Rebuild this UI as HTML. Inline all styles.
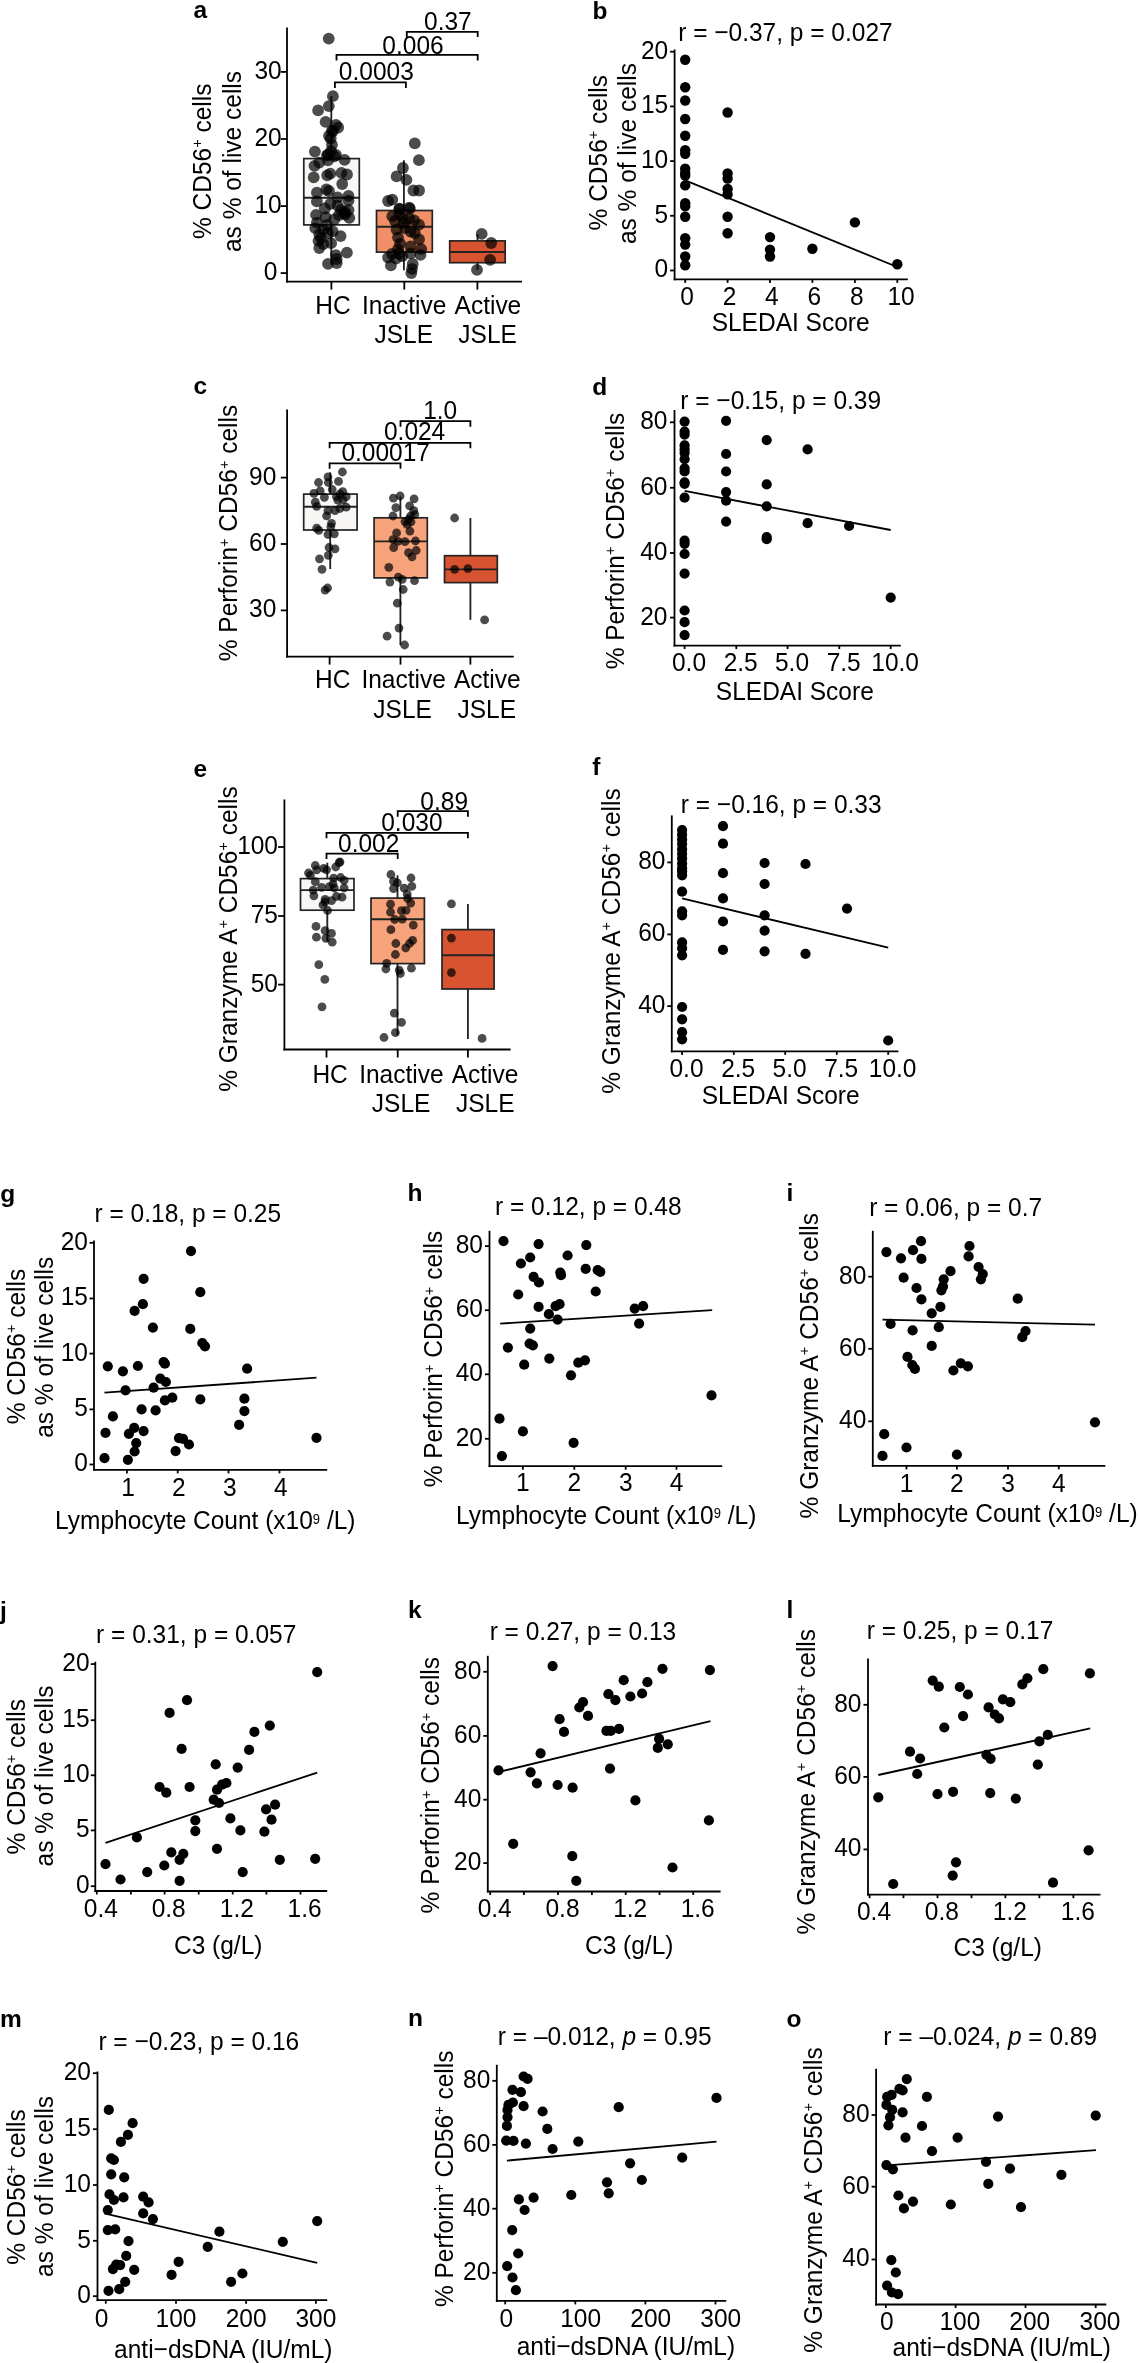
<!DOCTYPE html>
<html><head><meta charset="utf-8"><style>
html,body{margin:0;padding:0;background:#fff;}
svg{display:block;will-change:transform;font-family:"Liberation Sans",sans-serif;font-size:24.5px;fill:#000;}
.d{fill:#000;fill-opacity:0.7;}
.s{fill:#000;}
</style></head><body>
<svg width="1138" height="2363" viewBox="0 0 1138 2363">
<rect width="1138" height="2363" fill="#fff"/>
<text x="193.5" y="18.3" font-weight="bold">a</text>
<line x1="331.3" y1="96.2" x2="331.3" y2="158.6" stroke="#232323" stroke-width="1.85"/>
<line x1="331.3" y1="224.9" x2="331.3" y2="264.6" stroke="#232323" stroke-width="1.85"/>
<rect x="303.8" y="158.6" width="55.5" height="66.3" fill="#f8f7f5" stroke="#232323" stroke-width="1.7"/>
<line x1="303.8" y1="197.7" x2="359.3" y2="197.7" stroke="#232323" stroke-width="1.85"/>
<line x1="403.9" y1="160.2" x2="403.9" y2="210.5" stroke="#232323" stroke-width="1.85"/>
<line x1="403.9" y1="252.1" x2="403.9" y2="270.3" stroke="#232323" stroke-width="1.85"/>
<rect x="376.5" y="210.5" width="55.8" height="41.6" fill="#f18f66" stroke="#232323" stroke-width="1.7"/>
<line x1="376.5" y1="226.7" x2="432.3" y2="226.7" stroke="#232323" stroke-width="1.85"/>
<line x1="477.5" y1="234.3" x2="477.5" y2="240.9" stroke="#232323" stroke-width="1.85"/>
<line x1="477.5" y1="262.7" x2="477.5" y2="269.8" stroke="#232323" stroke-width="1.85"/>
<rect x="449.7" y="240.9" width="55.5" height="21.8" fill="#d85431" stroke="#232323" stroke-width="1.7"/>
<line x1="449.7" y1="252" x2="505.2" y2="252" stroke="#232323" stroke-width="1.85"/>
<circle class="d" cx="328.7" cy="38.6" r="5.9"/>
<circle class="d" cx="332.9" cy="96.2" r="5.9"/>
<circle class="d" cx="328.8" cy="106.1" r="5.9"/>
<circle class="d" cx="318.1" cy="110.4" r="5.9"/>
<circle class="d" cx="325.6" cy="121.9" r="5.9"/>
<circle class="d" cx="338.2" cy="127.5" r="5.9"/>
<circle class="d" cx="331.9" cy="130.6" r="5.9"/>
<circle class="d" cx="336" cy="125" r="5.9"/>
<circle class="d" cx="333" cy="131" r="5.9"/>
<circle class="d" cx="329" cy="136" r="5.9"/>
<circle class="d" cx="330.7" cy="138.5" r="5.9"/>
<circle class="d" cx="332" cy="144.9" r="5.9"/>
<circle class="d" cx="314.9" cy="151.6" r="5.9"/>
<circle class="d" cx="331" cy="151.2" r="5.9"/>
<circle class="d" cx="327" cy="155.5" r="5.9"/>
<circle class="d" cx="336" cy="155" r="5.9"/>
<circle class="d" cx="344.6" cy="159.9" r="5.9"/>
<circle class="d" cx="334.3" cy="156.3" r="5.9"/>
<circle class="d" cx="328" cy="154.7" r="5.9"/>
<circle class="d" cx="319.3" cy="162.7" r="5.9"/>
<circle class="d" cx="314.5" cy="165.8" r="5.9"/>
<circle class="d" cx="328" cy="160.3" r="5.9"/>
<circle class="d" cx="313.7" cy="177.3" r="5.9"/>
<circle class="d" cx="327.2" cy="175.3" r="5.9"/>
<circle class="d" cx="330.3" cy="173.7" r="5.9"/>
<circle class="d" cx="341.4" cy="172.9" r="5.9"/>
<circle class="d" cx="347" cy="174.5" r="5.9"/>
<circle class="d" cx="342.2" cy="184" r="5.9"/>
<circle class="d" cx="316.9" cy="192.7" r="5.9"/>
<circle class="d" cx="326.4" cy="189.5" r="5.9"/>
<circle class="d" cx="329" cy="191" r="5.9"/>
<circle class="d" cx="337.5" cy="197.5" r="5.9"/>
<circle class="d" cx="348.5" cy="195.9" r="5.9"/>
<circle class="d" cx="348.5" cy="200.6" r="5.9"/>
<circle class="d" cx="316.9" cy="201.4" r="5.9"/>
<circle class="d" cx="330.3" cy="203.8" r="5.9"/>
<circle class="d" cx="337.5" cy="205.4" r="5.9"/>
<circle class="d" cx="324.8" cy="208.5" r="5.9"/>
<circle class="d" cx="348.5" cy="210.1" r="5.9"/>
<circle class="d" cx="343.8" cy="213.3" r="5.9"/>
<circle class="d" cx="316.1" cy="214.9" r="5.9"/>
<circle class="d" cx="325.6" cy="217.2" r="5.9"/>
<circle class="d" cx="345.4" cy="214.7" r="5.9"/>
<circle class="d" cx="349.3" cy="217.9" r="5.9"/>
<circle class="d" cx="334.3" cy="219.5" r="5.9"/>
<circle class="d" cx="316.9" cy="222.7" r="5.9"/>
<circle class="d" cx="315.3" cy="228.2" r="5.9"/>
<circle class="d" cx="323.2" cy="229.8" r="5.9"/>
<circle class="d" cx="332.7" cy="231.4" r="5.9"/>
<circle class="d" cx="340.6" cy="236.1" r="5.9"/>
<circle class="d" cx="319.3" cy="234.5" r="5.9"/>
<circle class="d" cx="318.5" cy="240.8" r="5.9"/>
<circle class="d" cx="323.2" cy="244" r="5.9"/>
<circle class="d" cx="331.1" cy="243.2" r="5.9"/>
<circle class="d" cx="319.3" cy="248" r="5.9"/>
<circle class="d" cx="346.9" cy="252.7" r="5.9"/>
<circle class="d" cx="335.9" cy="255.1" r="5.9"/>
<circle class="d" cx="336.7" cy="259" r="5.9"/>
<circle class="d" cx="328" cy="263.8" r="5.9"/>
<circle class="d" cx="336.7" cy="263" r="5.9"/>
<circle class="d" cx="345" cy="212" r="5.9"/>
<circle class="d" cx="341" cy="210" r="5.9"/>
<circle class="d" cx="339" cy="215" r="5.9"/>
<circle class="d" cx="327" cy="225" r="5.9"/>
<circle class="d" cx="328" cy="233" r="5.9"/>
<circle class="d" cx="321" cy="238" r="5.9"/>
<circle class="d" cx="414.8" cy="143.4" r="5.9"/>
<circle class="d" cx="418.9" cy="160.2" r="5.9"/>
<circle class="d" cx="402.9" cy="168" r="5.9"/>
<circle class="d" cx="396.6" cy="176.4" r="5.9"/>
<circle class="d" cx="406.4" cy="179.9" r="5.9"/>
<circle class="d" cx="413.4" cy="190.5" r="5.9"/>
<circle class="d" cx="419.1" cy="190.5" r="5.9"/>
<circle class="d" cx="388.1" cy="201" r="5.9"/>
<circle class="d" cx="392.3" cy="199.6" r="5.9"/>
<circle class="d" cx="409.9" cy="208.7" r="5.9"/>
<circle class="d" cx="399.4" cy="208.7" r="5.9"/>
<circle class="d" cx="409.2" cy="207.7" r="5.9"/>
<circle class="d" cx="399.4" cy="209.1" r="5.9"/>
<circle class="d" cx="392.3" cy="216.2" r="5.9"/>
<circle class="d" cx="399.4" cy="214.1" r="5.9"/>
<circle class="d" cx="409.2" cy="218.3" r="5.9"/>
<circle class="d" cx="414.1" cy="220.4" r="5.9"/>
<circle class="d" cx="419" cy="224.6" r="5.9"/>
<circle class="d" cx="403.6" cy="223.2" r="5.9"/>
<circle class="d" cx="396.6" cy="229.5" r="5.9"/>
<circle class="d" cx="410.6" cy="231.6" r="5.9"/>
<circle class="d" cx="398" cy="237.3" r="5.9"/>
<circle class="d" cx="419" cy="239.4" r="5.9"/>
<circle class="d" cx="414.8" cy="233" r="5.9"/>
<circle class="d" cx="400.1" cy="243.6" r="5.9"/>
<circle class="d" cx="410.6" cy="246.4" r="5.9"/>
<circle class="d" cx="421.2" cy="249.2" r="5.9"/>
<circle class="d" cx="398" cy="249.2" r="5.9"/>
<circle class="d" cx="410.6" cy="253.4" r="5.9"/>
<circle class="d" cx="420.5" cy="254.8" r="5.9"/>
<circle class="d" cx="388.1" cy="257.6" r="5.9"/>
<circle class="d" cx="402.2" cy="256.2" r="5.9"/>
<circle class="d" cx="390.9" cy="265.4" r="5.9"/>
<circle class="d" cx="412.7" cy="264" r="5.9"/>
<circle class="d" cx="412" cy="268.9" r="5.9"/>
<circle class="d" cx="411.3" cy="273.1" r="5.9"/>
<circle class="d" cx="395" cy="221" r="5.9"/>
<circle class="d" cx="405" cy="228" r="5.9"/>
<circle class="d" cx="392" cy="254" r="5.9"/>
<circle class="d" cx="403" cy="218" r="5.9"/>
<circle class="d" cx="396" cy="258.5" r="5.9"/>
<circle class="d" cx="399" cy="253.5" r="5.9"/>
<circle class="d" cx="481.7" cy="233.9" r="5.9"/>
<circle class="d" cx="491.2" cy="243" r="5.9"/>
<circle class="d" cx="490.1" cy="259.9" r="5.9"/>
<circle class="d" cx="477" cy="269.8" r="5.9"/>
<line x1="287" y1="27.5" x2="287" y2="282.5" stroke="#000" stroke-width="1.8"/>
<line x1="286.1" y1="281.6" x2="522" y2="281.6" stroke="#000" stroke-width="1.8"/>
<line x1="280.7" y1="273.1" x2="287" y2="273.1" stroke="#000" stroke-width="1.8"/>
<line x1="280.7" y1="206.1" x2="287" y2="206.1" stroke="#000" stroke-width="1.8"/>
<line x1="280.7" y1="139" x2="287" y2="139" stroke="#000" stroke-width="1.8"/>
<line x1="280.7" y1="71.9" x2="287" y2="71.9" stroke="#000" stroke-width="1.8"/>
<line x1="331.4" y1="281.6" x2="331.4" y2="289.6" stroke="#000" stroke-width="1.8"/>
<line x1="404.3" y1="281.6" x2="404.3" y2="289.6" stroke="#000" stroke-width="1.8"/>
<line x1="477.4" y1="281.6" x2="477.4" y2="289.6" stroke="#000" stroke-width="1.8"/>
<text transform="translate(281.7,78.8) scale(1,1.06)" text-anchor="end">30</text>
<text transform="translate(281.7,145.9) scale(1,1.06)" text-anchor="end">20</text>
<text transform="translate(281.7,212.9) scale(1,1.06)" text-anchor="end">10</text>
<text transform="translate(277.3,280) scale(1,1.06)" text-anchor="end">0</text>
<text transform="translate(333,314.3) scale(1,1.06)" text-anchor="middle">HC</text>
<text transform="translate(404.2,314.3) scale(1,1.06)" text-anchor="middle">Inactive</text>
<text transform="translate(487.9,314.3) scale(1,1.06)" text-anchor="middle">Active</text>
<text transform="translate(403.7,342.9) scale(1,1.06)" text-anchor="middle">JSLE</text>
<text transform="translate(487.6,342.9) scale(1,1.06)" text-anchor="middle">JSLE</text>
<text transform="translate(210.8,161.3) rotate(-90) scale(1,1.06)" text-anchor="middle">% CD56<tspan font-size="14.5" dy="-8.3">+</tspan><tspan dy="8.3"> </tspan>cells</text>
<text transform="translate(240.9,161.5) rotate(-90) scale(1,1.06)" text-anchor="middle">as % of live cells</text>
<polyline points="334.9,87.9 334.9,82.4 405.9,82.4 405.9,87.9" fill="none" stroke="#000" stroke-width="1.8"/>
<polyline points="336.5,60.4 336.5,54.9 477.7,54.9 477.7,60.4" fill="none" stroke="#000" stroke-width="1.8"/>
<polyline points="406.8,36.9 406.8,31.9 477.7,31.9 477.7,36.9" fill="none" stroke="#000" stroke-width="1.8"/>
<text transform="translate(376.3,79.6) scale(1,1.06)" text-anchor="middle">0.0003</text>
<text transform="translate(413,54.3) scale(1,1.06)" text-anchor="middle">0.006</text>
<text transform="translate(447.9,29.7) scale(1,1.06)" text-anchor="middle">0.37</text>
<text x="592.5" y="18.6" font-weight="bold">b</text>
<line x1="674.6" y1="49.5" x2="674.6" y2="280.3" stroke="#000" stroke-width="1.8"/>
<line x1="673.7" y1="279.4" x2="907.8" y2="279.4" stroke="#000" stroke-width="1.8"/>
<line x1="670.1" y1="270.5" x2="674.6" y2="270.5" stroke="#000" stroke-width="1.8"/>
<line x1="670.1" y1="215.8" x2="674.6" y2="215.8" stroke="#000" stroke-width="1.8"/>
<line x1="670.1" y1="161.1" x2="674.6" y2="161.1" stroke="#000" stroke-width="1.8"/>
<line x1="670.1" y1="106.4" x2="674.6" y2="106.4" stroke="#000" stroke-width="1.8"/>
<line x1="670.1" y1="51.7" x2="674.6" y2="51.7" stroke="#000" stroke-width="1.8"/>
<line x1="685.2" y1="279.4" x2="685.2" y2="282.9" stroke="#000" stroke-width="1.8"/>
<line x1="727.6" y1="279.4" x2="727.6" y2="282.9" stroke="#000" stroke-width="1.8"/>
<line x1="770" y1="279.4" x2="770" y2="282.9" stroke="#000" stroke-width="1.8"/>
<line x1="812.4" y1="279.4" x2="812.4" y2="282.9" stroke="#000" stroke-width="1.8"/>
<line x1="854.9" y1="279.4" x2="854.9" y2="282.9" stroke="#000" stroke-width="1.8"/>
<line x1="897.3" y1="279.4" x2="897.3" y2="282.9" stroke="#000" stroke-width="1.8"/>
<text transform="translate(668.2,277.4) scale(1,1.06)" text-anchor="end">0</text>
<text transform="translate(668.2,222.7) scale(1,1.06)" text-anchor="end">5</text>
<text transform="translate(668.2,168) scale(1,1.06)" text-anchor="end">10</text>
<text transform="translate(668.2,113.3) scale(1,1.06)" text-anchor="end">15</text>
<text transform="translate(668.2,58.6) scale(1,1.06)" text-anchor="end">20</text>
<text transform="translate(687.1,304.8) scale(1,1.06)" text-anchor="middle">0</text>
<text transform="translate(729.5,304.8) scale(1,1.06)" text-anchor="middle">2</text>
<text transform="translate(771.9,304.8) scale(1,1.06)" text-anchor="middle">4</text>
<text transform="translate(814.3,304.8) scale(1,1.06)" text-anchor="middle">6</text>
<text transform="translate(856.8,304.8) scale(1,1.06)" text-anchor="middle">8</text>
<text transform="translate(901.1,304.8) scale(1,1.06)" text-anchor="middle">10</text>
<text transform="translate(790.6,331.4) scale(1,1.06)" text-anchor="middle">SLEDAI Score</text>
<text transform="translate(785.4,40.8) scale(1,1.06)" text-anchor="middle">r = −0.37, p = 0.027</text>
<text transform="translate(606.8,152.7) rotate(-90) scale(1,1.06)" text-anchor="middle">% CD56<tspan font-size="14.5" dy="-8.3">+</tspan><tspan dy="8.3"> </tspan>cells</text>
<text transform="translate(636.1,153.6) rotate(-90) scale(1,1.06)" text-anchor="middle">as % of live cells</text>
<line x1="685.2" y1="180.3" x2="897.3" y2="267" stroke="#000" stroke-width="1.8"/>
<circle class="s" cx="685.2" cy="59.8" r="5.2"/>
<circle class="s" cx="685.2" cy="87.3" r="5.2"/>
<circle class="s" cx="685.2" cy="100.5" r="5.2"/>
<circle class="s" cx="685.2" cy="119" r="5.2"/>
<circle class="s" cx="685.2" cy="135.7" r="5.2"/>
<circle class="s" cx="685.2" cy="150.3" r="5.2"/>
<circle class="s" cx="685.2" cy="153.8" r="5.2"/>
<circle class="s" cx="685.2" cy="168.7" r="5.2"/>
<circle class="s" cx="685.2" cy="173" r="5.2"/>
<circle class="s" cx="685.2" cy="175.6" r="5.2"/>
<circle class="s" cx="685.2" cy="185.4" r="5.2"/>
<circle class="s" cx="685.2" cy="203.3" r="5.2"/>
<circle class="s" cx="685.2" cy="206.3" r="5.2"/>
<circle class="s" cx="685.2" cy="216.8" r="5.2"/>
<circle class="s" cx="685.2" cy="238.3" r="5.2"/>
<circle class="s" cx="685.2" cy="244.6" r="5.2"/>
<circle class="s" cx="685.2" cy="256.5" r="5.2"/>
<circle class="s" cx="685.2" cy="265.2" r="5.2"/>
<circle class="s" cx="727.6" cy="112.5" r="5.2"/>
<circle class="s" cx="727.6" cy="173.4" r="5.2"/>
<circle class="s" cx="727.6" cy="178.5" r="5.2"/>
<circle class="s" cx="727.6" cy="189" r="5.2"/>
<circle class="s" cx="727.6" cy="194.4" r="5.2"/>
<circle class="s" cx="727.6" cy="216.8" r="5.2"/>
<circle class="s" cx="727.6" cy="233.2" r="5.2"/>
<circle class="s" cx="770" cy="237.1" r="5.2"/>
<circle class="s" cx="770" cy="249.6" r="5.2"/>
<circle class="s" cx="770" cy="256.5" r="5.2"/>
<circle class="s" cx="812.4" cy="248.7" r="5.2"/>
<circle class="s" cx="854.9" cy="222.4" r="5.2"/>
<circle class="s" cx="897.3" cy="264.3" r="5.2"/>
<text x="193.5" y="393.8" font-weight="bold">c</text>
<line x1="330.2" y1="472.3" x2="330.2" y2="494.1" stroke="#232323" stroke-width="1.85"/>
<line x1="330.2" y1="530" x2="330.2" y2="569" stroke="#232323" stroke-width="1.85"/>
<rect x="303.7" y="494.1" width="53.4" height="35.9" fill="#f8f7f5" stroke="#232323" stroke-width="1.7"/>
<line x1="303.7" y1="506.7" x2="357.1" y2="506.7" stroke="#232323" stroke-width="1.85"/>
<line x1="400.4" y1="496.7" x2="400.4" y2="517.8" stroke="#232323" stroke-width="1.85"/>
<line x1="400.4" y1="577.9" x2="400.4" y2="645" stroke="#232323" stroke-width="1.85"/>
<rect x="374.1" y="517.8" width="53.2" height="60.1" fill="#f7a47d" stroke="#232323" stroke-width="1.7"/>
<line x1="374.1" y1="541.3" x2="427.3" y2="541.3" stroke="#232323" stroke-width="1.85"/>
<line x1="470.4" y1="518" x2="470.4" y2="555.7" stroke="#232323" stroke-width="1.85"/>
<line x1="470.4" y1="582.6" x2="470.4" y2="619.9" stroke="#232323" stroke-width="1.85"/>
<rect x="444.5" y="555.7" width="52.8" height="26.9" fill="#d85431" stroke="#232323" stroke-width="1.7"/>
<line x1="444.5" y1="569.3" x2="497.3" y2="569.3" stroke="#232323" stroke-width="1.85"/>
<circle class="d" cx="342.4" cy="472" r="4.4"/>
<circle class="d" cx="328" cy="476.9" r="4.4"/>
<circle class="d" cx="318.5" cy="482.5" r="4.4"/>
<circle class="d" cx="338.5" cy="481.4" r="4.4"/>
<circle class="d" cx="328.3" cy="482.5" r="4.4"/>
<circle class="d" cx="332.2" cy="489.5" r="4.4"/>
<circle class="d" cx="320.2" cy="490.9" r="4.4"/>
<circle class="d" cx="313.9" cy="493.4" r="4.4"/>
<circle class="d" cx="342.7" cy="491.6" r="4.4"/>
<circle class="d" cx="324.4" cy="497.3" r="4.4"/>
<circle class="d" cx="336.4" cy="496.6" r="4.4"/>
<circle class="d" cx="346.2" cy="496.6" r="4.4"/>
<circle class="d" cx="337.8" cy="500.1" r="4.4"/>
<circle class="d" cx="315.3" cy="502.2" r="4.4"/>
<circle class="d" cx="316.7" cy="506.4" r="4.4"/>
<circle class="d" cx="346.2" cy="507.1" r="4.4"/>
<circle class="d" cx="339.9" cy="508.5" r="4.4"/>
<circle class="d" cx="328" cy="510.6" r="4.4"/>
<circle class="d" cx="335" cy="510.6" r="4.4"/>
<circle class="d" cx="326.6" cy="515.9" r="4.4"/>
<circle class="d" cx="331.5" cy="523.3" r="4.4"/>
<circle class="d" cx="330.8" cy="526.8" r="4.4"/>
<circle class="d" cx="316.7" cy="528.2" r="4.4"/>
<circle class="d" cx="318.8" cy="530.3" r="4.4"/>
<circle class="d" cx="328" cy="534.5" r="4.4"/>
<circle class="d" cx="334.3" cy="533.8" r="4.4"/>
<circle class="d" cx="329" cy="547.5" r="4.4"/>
<circle class="d" cx="335" cy="548.9" r="4.4"/>
<circle class="d" cx="328.3" cy="555.3" r="4.4"/>
<circle class="d" cx="319.5" cy="558.8" r="4.4"/>
<circle class="d" cx="322" cy="569.3" r="4.4"/>
<circle class="d" cx="327.6" cy="588" r="4.4"/>
<circle class="d" cx="325.1" cy="590.1" r="4.4"/>
<circle class="d" cx="340" cy="494" r="4.4"/>
<circle class="d" cx="343" cy="500" r="4.4"/>
<circle class="d" cx="393.4" cy="498.1" r="4.4"/>
<circle class="d" cx="400.1" cy="496" r="4.4"/>
<circle class="d" cx="414.1" cy="498.8" r="4.4"/>
<circle class="d" cx="395.9" cy="507.6" r="4.4"/>
<circle class="d" cx="409.6" cy="505.8" r="4.4"/>
<circle class="d" cx="413.8" cy="510.7" r="4.4"/>
<circle class="d" cx="414.8" cy="514.6" r="4.4"/>
<circle class="d" cx="393" cy="516" r="4.4"/>
<circle class="d" cx="410.6" cy="516" r="4.4"/>
<circle class="d" cx="405" cy="521.6" r="4.4"/>
<circle class="d" cx="407.1" cy="524.4" r="4.4"/>
<circle class="d" cx="409.9" cy="531.1" r="4.4"/>
<circle class="d" cx="396.6" cy="532.9" r="4.4"/>
<circle class="d" cx="393" cy="539.6" r="4.4"/>
<circle class="d" cx="398" cy="541.3" r="4.4"/>
<circle class="d" cx="405" cy="541.7" r="4.4"/>
<circle class="d" cx="415.5" cy="541" r="4.4"/>
<circle class="d" cx="393.7" cy="547.6" r="4.4"/>
<circle class="d" cx="408.5" cy="552.6" r="4.4"/>
<circle class="d" cx="416.2" cy="550.5" r="4.4"/>
<circle class="d" cx="412" cy="556.8" r="4.4"/>
<circle class="d" cx="388.8" cy="567.3" r="4.4"/>
<circle class="d" cx="398.3" cy="577.2" r="4.4"/>
<circle class="d" cx="402.2" cy="579.3" r="4.4"/>
<circle class="d" cx="389.9" cy="582.1" r="4.4"/>
<circle class="d" cx="414.5" cy="580.7" r="4.4"/>
<circle class="d" cx="403.2" cy="589.5" r="4.4"/>
<circle class="d" cx="397.3" cy="603.2" r="4.4"/>
<circle class="d" cx="399" cy="628.1" r="4.4"/>
<circle class="d" cx="387.1" cy="636.2" r="4.4"/>
<circle class="d" cx="404.6" cy="645" r="4.4"/>
<circle class="d" cx="409" cy="519" r="4.4"/>
<circle class="d" cx="411" cy="522" r="4.4"/>
<circle class="d" cx="454.6" cy="518" r="4.4"/>
<circle class="d" cx="454.6" cy="569.3" r="4.4"/>
<circle class="d" cx="467.9" cy="568.7" r="4.4"/>
<circle class="d" cx="484.6" cy="619.9" r="4.4"/>
<line x1="287.1" y1="409.5" x2="287.1" y2="657.5" stroke="#000" stroke-width="1.8"/>
<line x1="286.2" y1="656.6" x2="513.8" y2="656.6" stroke="#000" stroke-width="1.8"/>
<line x1="280.8" y1="610.4" x2="287.1" y2="610.4" stroke="#000" stroke-width="1.8"/>
<line x1="280.8" y1="544" x2="287.1" y2="544" stroke="#000" stroke-width="1.8"/>
<line x1="280.8" y1="477.6" x2="287.1" y2="477.6" stroke="#000" stroke-width="1.8"/>
<line x1="329.6" y1="656.6" x2="329.6" y2="664.6" stroke="#000" stroke-width="1.8"/>
<line x1="400.5" y1="656.6" x2="400.5" y2="664.6" stroke="#000" stroke-width="1.8"/>
<line x1="470.4" y1="656.6" x2="470.4" y2="664.6" stroke="#000" stroke-width="1.8"/>
<text transform="translate(276.3,617.3) scale(1,1.06)" text-anchor="end">30</text>
<text transform="translate(276.3,550.9) scale(1,1.06)" text-anchor="end">60</text>
<text transform="translate(276.3,484.5) scale(1,1.06)" text-anchor="end">90</text>
<text transform="translate(332.7,688.1) scale(1,1.06)" text-anchor="middle">HC</text>
<text transform="translate(403.6,688.1) scale(1,1.06)" text-anchor="middle">Inactive</text>
<text transform="translate(487.3,688.1) scale(1,1.06)" text-anchor="middle">Active</text>
<text transform="translate(402.6,717.8) scale(1,1.06)" text-anchor="middle">JSLE</text>
<text transform="translate(486.8,717.8) scale(1,1.06)" text-anchor="middle">JSLE</text>
<text transform="translate(237.4,533) rotate(-90) scale(1,1.06)" text-anchor="middle">% Perforin<tspan font-size="14.5" dy="-8.3">+</tspan><tspan dy="8.3"> </tspan>CD56<tspan font-size="14.5" dy="-8.3">+</tspan><tspan dy="8.3"> </tspan>cells</text>
<polyline points="329.6,468.8 329.6,463.3 400.5,463.3 400.5,468.8" fill="none" stroke="#000" stroke-width="1.8"/>
<polyline points="329.6,448.3 329.6,442.8 470.4,442.8 470.4,448.3" fill="none" stroke="#000" stroke-width="1.8"/>
<polyline points="400.5,426.7 400.5,421.2 470.4,421.2 470.4,426.7" fill="none" stroke="#000" stroke-width="1.8"/>
<text transform="translate(385.7,461.1) scale(1,1.06)" text-anchor="middle">0.00017</text>
<text transform="translate(414.6,440.2) scale(1,1.06)" text-anchor="middle">0.024</text>
<text transform="translate(440.2,419.1) scale(1,1.06)" text-anchor="middle">1.0</text>
<text x="592.3" y="394.6" font-weight="bold">d</text>
<line x1="674.5" y1="410" x2="674.5" y2="646.5" stroke="#000" stroke-width="1.8"/>
<line x1="673.6" y1="645.6" x2="900.8" y2="645.6" stroke="#000" stroke-width="1.8"/>
<line x1="670" y1="617.6" x2="674.5" y2="617.6" stroke="#000" stroke-width="1.8"/>
<line x1="670" y1="553" x2="674.5" y2="553" stroke="#000" stroke-width="1.8"/>
<line x1="670" y1="487.8" x2="674.5" y2="487.8" stroke="#000" stroke-width="1.8"/>
<line x1="670" y1="422.3" x2="674.5" y2="422.3" stroke="#000" stroke-width="1.8"/>
<line x1="684.6" y1="645.6" x2="684.6" y2="649.1" stroke="#000" stroke-width="1.8"/>
<line x1="736.3" y1="645.6" x2="736.3" y2="649.1" stroke="#000" stroke-width="1.8"/>
<line x1="787.6" y1="645.6" x2="787.6" y2="649.1" stroke="#000" stroke-width="1.8"/>
<line x1="839.3" y1="645.6" x2="839.3" y2="649.1" stroke="#000" stroke-width="1.8"/>
<line x1="890.7" y1="645.6" x2="890.7" y2="649.1" stroke="#000" stroke-width="1.8"/>
<text transform="translate(667.5,624.5) scale(1,1.06)" text-anchor="end">20</text>
<text transform="translate(667.5,559.9) scale(1,1.06)" text-anchor="end">40</text>
<text transform="translate(667.5,494.7) scale(1,1.06)" text-anchor="end">60</text>
<text transform="translate(667.5,429.2) scale(1,1.06)" text-anchor="end">80</text>
<text transform="translate(689,671.4) scale(1,1.06)" text-anchor="middle">0.0</text>
<text transform="translate(740.7,671.4) scale(1,1.06)" text-anchor="middle">2.5</text>
<text transform="translate(792,671.4) scale(1,1.06)" text-anchor="middle">5.0</text>
<text transform="translate(843.7,671.4) scale(1,1.06)" text-anchor="middle">7.5</text>
<text transform="translate(895.1,671.4) scale(1,1.06)" text-anchor="middle">10.0</text>
<text transform="translate(794.8,699.6) scale(1,1.06)" text-anchor="middle">SLEDAI Score</text>
<text transform="translate(780.7,408.9) scale(1,1.06)" text-anchor="middle">r = −0.15, p = 0.39</text>
<text transform="translate(623.6,541.1) rotate(-90) scale(1,1.06)" text-anchor="middle">% Perforin<tspan font-size="14.5" dy="-8.3">+</tspan><tspan dy="8.3"> </tspan>CD56<tspan font-size="14.5" dy="-8.3">+</tspan><tspan dy="8.3"> </tspan>cells</text>
<line x1="684.6" y1="490.9" x2="890.7" y2="530" stroke="#000" stroke-width="1.8"/>
<circle class="s" cx="684.6" cy="421.7" r="5.1"/>
<circle class="s" cx="684.6" cy="431.5" r="5.1"/>
<circle class="s" cx="684.6" cy="434.6" r="5.1"/>
<circle class="s" cx="684.6" cy="445.4" r="5.1"/>
<circle class="s" cx="684.6" cy="449.4" r="5.1"/>
<circle class="s" cx="684.6" cy="453" r="5.1"/>
<circle class="s" cx="684.6" cy="459.2" r="5.1"/>
<circle class="s" cx="684.6" cy="468.4" r="5.1"/>
<circle class="s" cx="684.6" cy="471.5" r="5.1"/>
<circle class="s" cx="684.6" cy="482.3" r="5.1"/>
<circle class="s" cx="684.6" cy="483.8" r="5.1"/>
<circle class="s" cx="684.6" cy="497.7" r="5.1"/>
<circle class="s" cx="684.6" cy="540.7" r="5.1"/>
<circle class="s" cx="684.6" cy="543.8" r="5.1"/>
<circle class="s" cx="684.6" cy="554" r="5.1"/>
<circle class="s" cx="684.6" cy="573.6" r="5.1"/>
<circle class="s" cx="684.6" cy="610.5" r="5.1"/>
<circle class="s" cx="684.6" cy="622.2" r="5.1"/>
<circle class="s" cx="684.6" cy="635.1" r="5.1"/>
<circle class="s" cx="726.1" cy="420.8" r="5.1"/>
<circle class="s" cx="726.1" cy="454" r="5.1"/>
<circle class="s" cx="726.1" cy="471.5" r="5.1"/>
<circle class="s" cx="726.1" cy="492.1" r="5.1"/>
<circle class="s" cx="726.1" cy="500.7" r="5.1"/>
<circle class="s" cx="726.1" cy="521.6" r="5.1"/>
<circle class="s" cx="766.7" cy="440.1" r="5.1"/>
<circle class="s" cx="766.7" cy="484.4" r="5.1"/>
<circle class="s" cx="766.7" cy="506.3" r="5.1"/>
<circle class="s" cx="766.7" cy="537" r="5.1"/>
<circle class="s" cx="766.7" cy="539.2" r="5.1"/>
<circle class="s" cx="807.6" cy="449.4" r="5.1"/>
<circle class="s" cx="807.6" cy="523.2" r="5.1"/>
<circle class="s" cx="849.1" cy="526" r="5.1"/>
<circle class="s" cx="890.7" cy="597.6" r="5.1"/>
<text x="193.5" y="776.6" font-weight="bold">e</text>
<line x1="327.3" y1="862.7" x2="327.3" y2="878.6" stroke="#232323" stroke-width="1.85"/>
<line x1="327.3" y1="910.2" x2="327.3" y2="941.5" stroke="#232323" stroke-width="1.85"/>
<rect x="300.5" y="878.6" width="53.5" height="31.6" fill="#f8f7f5" stroke="#232323" stroke-width="1.7"/>
<line x1="300.5" y1="890.1" x2="354" y2="890.1" stroke="#232323" stroke-width="1.85"/>
<line x1="397.5" y1="875.3" x2="397.5" y2="898.1" stroke="#232323" stroke-width="1.85"/>
<line x1="397.5" y1="963.6" x2="397.5" y2="1035.2" stroke="#232323" stroke-width="1.85"/>
<rect x="371" y="898.1" width="53.4" height="65.5" fill="#f7a47d" stroke="#232323" stroke-width="1.7"/>
<line x1="371" y1="919.2" x2="424.4" y2="919.2" stroke="#232323" stroke-width="1.85"/>
<line x1="467.9" y1="904" x2="467.9" y2="929.6" stroke="#232323" stroke-width="1.85"/>
<line x1="467.9" y1="989" x2="467.9" y2="1039" stroke="#232323" stroke-width="1.85"/>
<rect x="442" y="929.6" width="52.1" height="59.4" fill="#d85431" stroke="#232323" stroke-width="1.7"/>
<line x1="442" y1="955.2" x2="494.1" y2="955.2" stroke="#232323" stroke-width="1.85"/>
<circle class="d" cx="315.3" cy="865.5" r="4.4"/>
<circle class="d" cx="339.2" cy="862.7" r="4.4"/>
<circle class="d" cx="335.7" cy="867" r="4.4"/>
<circle class="d" cx="323.7" cy="868.4" r="4.4"/>
<circle class="d" cx="326.6" cy="869.8" r="4.4"/>
<circle class="d" cx="316.7" cy="869.8" r="4.4"/>
<circle class="d" cx="310.4" cy="875.4" r="4.4"/>
<circle class="d" cx="333.6" cy="878.2" r="4.4"/>
<circle class="d" cx="340.6" cy="877.5" r="4.4"/>
<circle class="d" cx="344.1" cy="880.3" r="4.4"/>
<circle class="d" cx="315.3" cy="881.7" r="4.4"/>
<circle class="d" cx="321.6" cy="887.3" r="4.4"/>
<circle class="d" cx="329.4" cy="886.6" r="4.4"/>
<circle class="d" cx="334.3" cy="888" r="4.4"/>
<circle class="d" cx="344.1" cy="888" r="4.4"/>
<circle class="d" cx="313.2" cy="890.1" r="4.4"/>
<circle class="d" cx="313.9" cy="895.8" r="4.4"/>
<circle class="d" cx="336.4" cy="896.5" r="4.4"/>
<circle class="d" cx="342" cy="897.2" r="4.4"/>
<circle class="d" cx="325.1" cy="899.3" r="4.4"/>
<circle class="d" cx="331.5" cy="900.7" r="4.4"/>
<circle class="d" cx="323" cy="904.9" r="4.4"/>
<circle class="d" cx="327.6" cy="910.5" r="4.4"/>
<circle class="d" cx="316" cy="926.4" r="4.4"/>
<circle class="d" cx="325.1" cy="930.6" r="4.4"/>
<circle class="d" cx="331.5" cy="933.4" r="4.4"/>
<circle class="d" cx="316.4" cy="937.2" r="4.4"/>
<circle class="d" cx="325.9" cy="938.3" r="4.4"/>
<circle class="d" cx="332.2" cy="942.2" r="4.4"/>
<circle class="d" cx="318.8" cy="964.7" r="4.4"/>
<circle class="d" cx="324.8" cy="979.4" r="4.4"/>
<circle class="d" cx="322" cy="1006.8" r="4.4"/>
<circle class="d" cx="340" cy="862" r="4.4"/>
<circle class="d" cx="308.5" cy="873" r="4.4"/>
<circle class="d" cx="333" cy="884" r="4.4"/>
<circle class="d" cx="325" cy="902" r="4.4"/>
<circle class="d" cx="390.9" cy="874.5" r="4.4"/>
<circle class="d" cx="411" cy="878" r="4.4"/>
<circle class="d" cx="393.5" cy="881.4" r="4.4"/>
<circle class="d" cx="397.3" cy="882.9" r="4.4"/>
<circle class="d" cx="411.8" cy="886.3" r="4.4"/>
<circle class="d" cx="393.5" cy="888.6" r="4.4"/>
<circle class="d" cx="404.2" cy="888.2" r="4.4"/>
<circle class="d" cx="407.2" cy="893.9" r="4.4"/>
<circle class="d" cx="407.6" cy="898.5" r="4.4"/>
<circle class="d" cx="410.7" cy="903.1" r="4.4"/>
<circle class="d" cx="390.5" cy="904.2" r="4.4"/>
<circle class="d" cx="390.5" cy="912.2" r="4.4"/>
<circle class="d" cx="401.5" cy="910.7" r="4.4"/>
<circle class="d" cx="406.1" cy="910.3" r="4.4"/>
<circle class="d" cx="394.7" cy="919.5" r="4.4"/>
<circle class="d" cx="402.3" cy="919.1" r="4.4"/>
<circle class="d" cx="413.3" cy="925.2" r="4.4"/>
<circle class="d" cx="390.9" cy="929.7" r="4.4"/>
<circle class="d" cx="412.6" cy="940.4" r="4.4"/>
<circle class="d" cx="409.5" cy="943.5" r="4.4"/>
<circle class="d" cx="395.8" cy="943.5" r="4.4"/>
<circle class="d" cx="405.7" cy="948" r="4.4"/>
<circle class="d" cx="395.4" cy="954.5" r="4.4"/>
<circle class="d" cx="386.7" cy="963.3" r="4.4"/>
<circle class="d" cx="385.9" cy="969" r="4.4"/>
<circle class="d" cx="399.2" cy="970.1" r="4.4"/>
<circle class="d" cx="400.4" cy="973.5" r="4.4"/>
<circle class="d" cx="411.4" cy="968.2" r="4.4"/>
<circle class="d" cx="394.3" cy="1013.2" r="4.4"/>
<circle class="d" cx="401.5" cy="1022.3" r="4.4"/>
<circle class="d" cx="395.4" cy="1032.6" r="4.4"/>
<circle class="d" cx="384" cy="1037.5" r="4.4"/>
<circle class="d" cx="451.4" cy="903.9" r="4.4"/>
<circle class="d" cx="451.4" cy="938.1" r="4.4"/>
<circle class="d" cx="451.4" cy="972.6" r="4.4"/>
<circle class="d" cx="482.1" cy="1038.4" r="4.4"/>
<line x1="284.4" y1="799.5" x2="284.4" y2="1050.4" stroke="#000" stroke-width="1.8"/>
<line x1="283.5" y1="1049.5" x2="510.6" y2="1049.5" stroke="#000" stroke-width="1.8"/>
<line x1="278.1" y1="984.6" x2="284.4" y2="984.6" stroke="#000" stroke-width="1.8"/>
<line x1="278.1" y1="916" x2="284.4" y2="916" stroke="#000" stroke-width="1.8"/>
<line x1="278.1" y1="847" x2="284.4" y2="847" stroke="#000" stroke-width="1.8"/>
<line x1="326.5" y1="1049.5" x2="326.5" y2="1057.5" stroke="#000" stroke-width="1.8"/>
<line x1="397.7" y1="1049.5" x2="397.7" y2="1057.5" stroke="#000" stroke-width="1.8"/>
<line x1="467.9" y1="1049.5" x2="467.9" y2="1057.5" stroke="#000" stroke-width="1.8"/>
<text transform="translate(278,991.5) scale(1,1.06)" text-anchor="end">50</text>
<text transform="translate(278,922.9) scale(1,1.06)" text-anchor="end">75</text>
<text transform="translate(278,853.9) scale(1,1.06)" text-anchor="end">100</text>
<text transform="translate(330.1,1083.2) scale(1,1.06)" text-anchor="middle">HC</text>
<text transform="translate(401.4,1083.2) scale(1,1.06)" text-anchor="middle">Inactive</text>
<text transform="translate(485,1083.2) scale(1,1.06)" text-anchor="middle">Active</text>
<text transform="translate(401.1,1111.7) scale(1,1.06)" text-anchor="middle">JSLE</text>
<text transform="translate(485.3,1111.7) scale(1,1.06)" text-anchor="middle">JSLE</text>
<text transform="translate(237.1,939.1) rotate(-90) scale(1,1.06)" text-anchor="middle">% Granzyme A<tspan font-size="14.5" dy="-8.3">+</tspan><tspan dy="8.3"> </tspan>CD56<tspan font-size="14.5" dy="-8.3">+</tspan><tspan dy="8.3"> </tspan>cells</text>
<polyline points="326.5,859.1 326.5,853.6 397.7,853.6 397.7,859.1" fill="none" stroke="#000" stroke-width="1.8"/>
<polyline points="326.5,838.3 326.5,832.8 467.9,832.8 467.9,838.3" fill="none" stroke="#000" stroke-width="1.8"/>
<polyline points="397.7,816.7 397.7,811.2 467.9,811.2 467.9,816.7" fill="none" stroke="#000" stroke-width="1.8"/>
<text transform="translate(368.7,851.6) scale(1,1.06)" text-anchor="middle">0.002</text>
<text transform="translate(411.9,830.7) scale(1,1.06)" text-anchor="middle">0.030</text>
<text transform="translate(444.2,809.5) scale(1,1.06)" text-anchor="middle">0.89</text>
<text x="592.3" y="775.4" font-weight="bold">f</text>
<line x1="671.8" y1="815.4" x2="671.8" y2="1052.3" stroke="#000" stroke-width="1.8"/>
<line x1="670.9" y1="1051.4" x2="898.4" y2="1051.4" stroke="#000" stroke-width="1.8"/>
<line x1="667.3" y1="1006.1" x2="671.8" y2="1006.1" stroke="#000" stroke-width="1.8"/>
<line x1="667.3" y1="934.4" x2="671.8" y2="934.4" stroke="#000" stroke-width="1.8"/>
<line x1="667.3" y1="862.4" x2="671.8" y2="862.4" stroke="#000" stroke-width="1.8"/>
<line x1="682.1" y1="1051.4" x2="682.1" y2="1054.9" stroke="#000" stroke-width="1.8"/>
<line x1="733.8" y1="1051.4" x2="733.8" y2="1054.9" stroke="#000" stroke-width="1.8"/>
<line x1="785.2" y1="1051.4" x2="785.2" y2="1054.9" stroke="#000" stroke-width="1.8"/>
<line x1="836.8" y1="1051.4" x2="836.8" y2="1054.9" stroke="#000" stroke-width="1.8"/>
<line x1="888.2" y1="1051.4" x2="888.2" y2="1054.9" stroke="#000" stroke-width="1.8"/>
<text transform="translate(665.5,1013) scale(1,1.06)" text-anchor="end">40</text>
<text transform="translate(665.5,941.3) scale(1,1.06)" text-anchor="end">60</text>
<text transform="translate(665.5,869.3) scale(1,1.06)" text-anchor="end">80</text>
<text transform="translate(686.5,1076.9) scale(1,1.06)" text-anchor="middle">0.0</text>
<text transform="translate(738.2,1076.9) scale(1,1.06)" text-anchor="middle">2.5</text>
<text transform="translate(789.6,1076.9) scale(1,1.06)" text-anchor="middle">5.0</text>
<text transform="translate(841.2,1076.9) scale(1,1.06)" text-anchor="middle">7.5</text>
<text transform="translate(892.6,1076.9) scale(1,1.06)" text-anchor="middle">10.0</text>
<text transform="translate(780.7,1103.5) scale(1,1.06)" text-anchor="middle">SLEDAI Score</text>
<text transform="translate(781.2,812.8) scale(1,1.06)" text-anchor="middle">r = −0.16, p = 0.33</text>
<text transform="translate(620.2,941) rotate(-90) scale(1,1.06)" text-anchor="middle">% Granzyme A<tspan font-size="14.5" dy="-8.3">+</tspan><tspan dy="8.3"> </tspan>CD56<tspan font-size="14.5" dy="-8.3">+</tspan><tspan dy="8.3"> </tspan>cells</text>
<line x1="682.1" y1="898.4" x2="888.2" y2="947.6" stroke="#000" stroke-width="1.8"/>
<circle class="s" cx="682.1" cy="830.1" r="5.1"/>
<circle class="s" cx="682.1" cy="834.7" r="5.1"/>
<circle class="s" cx="682.1" cy="839.4" r="5.1"/>
<circle class="s" cx="682.1" cy="844" r="5.1"/>
<circle class="s" cx="682.1" cy="849.2" r="5.1"/>
<circle class="s" cx="682.1" cy="853.8" r="5.1"/>
<circle class="s" cx="682.1" cy="858.4" r="5.1"/>
<circle class="s" cx="682.1" cy="863.7" r="5.1"/>
<circle class="s" cx="682.1" cy="868.3" r="5.1"/>
<circle class="s" cx="682.1" cy="871.3" r="5.1"/>
<circle class="s" cx="682.1" cy="875.3" r="5.1"/>
<circle class="s" cx="682.1" cy="891.7" r="5.1"/>
<circle class="s" cx="682.1" cy="911.3" r="5.1"/>
<circle class="s" cx="682.1" cy="915.3" r="5.1"/>
<circle class="s" cx="682.1" cy="942.4" r="5.1"/>
<circle class="s" cx="682.1" cy="948.2" r="5.1"/>
<circle class="s" cx="682.1" cy="955.3" r="5.1"/>
<circle class="s" cx="682.1" cy="1007" r="5.1"/>
<circle class="s" cx="682.1" cy="1019.3" r="5.1"/>
<circle class="s" cx="682.1" cy="1032.2" r="5.1"/>
<circle class="s" cx="682.1" cy="1039.3" r="5.1"/>
<circle class="s" cx="723" cy="826.1" r="5.1"/>
<circle class="s" cx="723" cy="843.7" r="5.1"/>
<circle class="s" cx="723" cy="873.2" r="5.1"/>
<circle class="s" cx="723" cy="898.4" r="5.1"/>
<circle class="s" cx="723" cy="921.5" r="5.1"/>
<circle class="s" cx="723" cy="949.8" r="5.1"/>
<circle class="s" cx="764.6" cy="863" r="5.1"/>
<circle class="s" cx="764.6" cy="884" r="5.1"/>
<circle class="s" cx="764.6" cy="915.3" r="5.1"/>
<circle class="s" cx="764.6" cy="930.7" r="5.1"/>
<circle class="s" cx="764.6" cy="951.3" r="5.1"/>
<circle class="s" cx="805.5" cy="864" r="5.1"/>
<circle class="s" cx="805.5" cy="953.8" r="5.1"/>
<circle class="s" cx="847" cy="908.6" r="5.1"/>
<circle class="s" cx="888.2" cy="1040.5" r="5.1"/>
<text x="0.3" y="1201.6" font-weight="bold">g</text>
<line x1="94" y1="1240.5" x2="94" y2="1470.8" stroke="#000" stroke-width="1.8"/>
<line x1="93.1" y1="1469.9" x2="327.2" y2="1469.9" stroke="#000" stroke-width="1.8"/>
<line x1="89.5" y1="1464.5" x2="94" y2="1464.5" stroke="#000" stroke-width="1.8"/>
<line x1="89.5" y1="1409.4" x2="94" y2="1409.4" stroke="#000" stroke-width="1.8"/>
<line x1="89.5" y1="1353.6" x2="94" y2="1353.6" stroke="#000" stroke-width="1.8"/>
<line x1="89.5" y1="1298.5" x2="94" y2="1298.5" stroke="#000" stroke-width="1.8"/>
<line x1="89.5" y1="1242.8" x2="94" y2="1242.8" stroke="#000" stroke-width="1.8"/>
<line x1="126.9" y1="1469.9" x2="126.9" y2="1473.4" stroke="#000" stroke-width="1.8"/>
<line x1="177.7" y1="1469.9" x2="177.7" y2="1473.4" stroke="#000" stroke-width="1.8"/>
<line x1="228.5" y1="1469.9" x2="228.5" y2="1473.4" stroke="#000" stroke-width="1.8"/>
<line x1="279.5" y1="1469.9" x2="279.5" y2="1473.4" stroke="#000" stroke-width="1.8"/>
<text transform="translate(88,1471.4) scale(1,1.06)" text-anchor="end">0</text>
<text transform="translate(88,1416.3) scale(1,1.06)" text-anchor="end">5</text>
<text transform="translate(88,1360.5) scale(1,1.06)" text-anchor="end">10</text>
<text transform="translate(88,1305.4) scale(1,1.06)" text-anchor="end">15</text>
<text transform="translate(88,1249.7) scale(1,1.06)" text-anchor="end">20</text>
<text transform="translate(128.1,1496) scale(1,1.06)" text-anchor="middle">1</text>
<text transform="translate(178.9,1496) scale(1,1.06)" text-anchor="middle">2</text>
<text transform="translate(229.7,1496) scale(1,1.06)" text-anchor="middle">3</text>
<text transform="translate(280.7,1496) scale(1,1.06)" text-anchor="middle">4</text>
<text transform="translate(205.3,1529.4) scale(1,1.06)" text-anchor="middle">Lymphocyte Count (x10<tspan font-size="13" dy="-5.2">9</tspan><tspan dy="5.2"> </tspan>/L)</text>
<text transform="translate(187.8,1222.3) scale(1,1.06)" text-anchor="middle">r = 0.18, p = 0.25</text>
<text transform="translate(24.6,1346.5) rotate(-90) scale(1,1.06)" text-anchor="middle">% CD56<tspan font-size="14.5" dy="-8.3">+</tspan><tspan dy="8.3"> </tspan>cells</text>
<text transform="translate(53.3,1347.3) rotate(-90) scale(1,1.06)" text-anchor="middle">as % of live cells</text>
<line x1="104.5" y1="1392.7" x2="316.5" y2="1377.7" stroke="#000" stroke-width="1.8"/>
<circle class="s" cx="191" cy="1251.1" r="5.1"/>
<circle class="s" cx="143.6" cy="1278.8" r="5.1"/>
<circle class="s" cx="200.3" cy="1292.2" r="5.1"/>
<circle class="s" cx="142.9" cy="1304.2" r="5.1"/>
<circle class="s" cx="134.6" cy="1310.9" r="5.1"/>
<circle class="s" cx="152.9" cy="1327.6" r="5.1"/>
<circle class="s" cx="190.3" cy="1328.9" r="5.1"/>
<circle class="s" cx="202.3" cy="1343" r="5.1"/>
<circle class="s" cx="205" cy="1346.3" r="5.1"/>
<circle class="s" cx="107.8" cy="1366.3" r="5.1"/>
<circle class="s" cx="122.9" cy="1371.3" r="5.1"/>
<circle class="s" cx="137.9" cy="1366" r="5.1"/>
<circle class="s" cx="163.6" cy="1362" r="5.1"/>
<circle class="s" cx="164.9" cy="1363.7" r="5.1"/>
<circle class="s" cx="247.1" cy="1368.7" r="5.1"/>
<circle class="s" cx="160.3" cy="1378.7" r="5.1"/>
<circle class="s" cx="165.9" cy="1382" r="5.1"/>
<circle class="s" cx="153.6" cy="1387.7" r="5.1"/>
<circle class="s" cx="125.5" cy="1390.4" r="5.1"/>
<circle class="s" cx="164.9" cy="1400.4" r="5.1"/>
<circle class="s" cx="172.3" cy="1397.7" r="5.1"/>
<circle class="s" cx="200.3" cy="1399.4" r="5.1"/>
<circle class="s" cx="244.4" cy="1398.7" r="5.1"/>
<circle class="s" cx="244.4" cy="1411.1" r="5.1"/>
<circle class="s" cx="141.6" cy="1409.4" r="5.1"/>
<circle class="s" cx="155.6" cy="1410.4" r="5.1"/>
<circle class="s" cx="112.9" cy="1416.4" r="5.1"/>
<circle class="s" cx="239.1" cy="1424.8" r="5.1"/>
<circle class="s" cx="134.2" cy="1427.8" r="5.1"/>
<circle class="s" cx="128.9" cy="1433.8" r="5.1"/>
<circle class="s" cx="105.5" cy="1432.8" r="5.1"/>
<circle class="s" cx="143.6" cy="1431.1" r="5.1"/>
<circle class="s" cx="179" cy="1438.1" r="5.1"/>
<circle class="s" cx="183" cy="1438.8" r="5.1"/>
<circle class="s" cx="189" cy="1444.5" r="5.1"/>
<circle class="s" cx="316.5" cy="1437.8" r="5.1"/>
<circle class="s" cx="136.2" cy="1443.1" r="5.1"/>
<circle class="s" cx="134.6" cy="1451.5" r="5.1"/>
<circle class="s" cx="175.6" cy="1451.1" r="5.1"/>
<circle class="s" cx="104.5" cy="1458.1" r="5.1"/>
<circle class="s" cx="127.9" cy="1459.8" r="5.1"/>
<text x="407.6" y="1201.3" font-weight="bold">h</text>
<line x1="489.5" y1="1230.8" x2="489.5" y2="1467.1" stroke="#000" stroke-width="1.8"/>
<line x1="488.6" y1="1466.2" x2="722.2" y2="1466.2" stroke="#000" stroke-width="1.8"/>
<line x1="485" y1="1438.8" x2="489.5" y2="1438.8" stroke="#000" stroke-width="1.8"/>
<line x1="485" y1="1374.3" x2="489.5" y2="1374.3" stroke="#000" stroke-width="1.8"/>
<line x1="485" y1="1310.2" x2="489.5" y2="1310.2" stroke="#000" stroke-width="1.8"/>
<line x1="485" y1="1246.1" x2="489.5" y2="1246.1" stroke="#000" stroke-width="1.8"/>
<line x1="522.9" y1="1466.2" x2="522.9" y2="1469.7" stroke="#000" stroke-width="1.8"/>
<line x1="574.3" y1="1466.2" x2="574.3" y2="1469.7" stroke="#000" stroke-width="1.8"/>
<line x1="625.7" y1="1466.2" x2="625.7" y2="1469.7" stroke="#000" stroke-width="1.8"/>
<line x1="676.5" y1="1466.2" x2="676.5" y2="1469.7" stroke="#000" stroke-width="1.8"/>
<text transform="translate(483,1445.7) scale(1,1.06)" text-anchor="end">20</text>
<text transform="translate(483,1381.2) scale(1,1.06)" text-anchor="end">40</text>
<text transform="translate(483,1317.1) scale(1,1.06)" text-anchor="end">60</text>
<text transform="translate(483,1253) scale(1,1.06)" text-anchor="end">80</text>
<text transform="translate(522.9,1491) scale(1,1.06)" text-anchor="middle">1</text>
<text transform="translate(574.3,1491) scale(1,1.06)" text-anchor="middle">2</text>
<text transform="translate(625.7,1491) scale(1,1.06)" text-anchor="middle">3</text>
<text transform="translate(676.5,1491) scale(1,1.06)" text-anchor="middle">4</text>
<text transform="translate(606.2,1523.8) scale(1,1.06)" text-anchor="middle">Lymphocyte Count (x10<tspan font-size="13" dy="-5.2">9</tspan><tspan dy="5.2"> </tspan>/L)</text>
<text transform="translate(588.3,1214.9) scale(1,1.06)" text-anchor="middle">r = 0.12, p = 0.48</text>
<text transform="translate(442.4,1359.1) rotate(-90) scale(1,1.06)" text-anchor="middle">% Perforin<tspan font-size="14.5" dy="-8.3">+</tspan><tspan dy="8.3"> </tspan>CD56<tspan font-size="14.5" dy="-8.3">+</tspan><tspan dy="8.3"> </tspan>cells</text>
<line x1="500.2" y1="1323.6" x2="712.2" y2="1310.2" stroke="#000" stroke-width="1.8"/>
<circle class="s" cx="503.5" cy="1241.1" r="5.1"/>
<circle class="s" cx="538.6" cy="1244.1" r="5.1"/>
<circle class="s" cx="586.3" cy="1245.1" r="5.1"/>
<circle class="s" cx="530.2" cy="1257.5" r="5.1"/>
<circle class="s" cx="567.6" cy="1255.5" r="5.1"/>
<circle class="s" cx="520.9" cy="1263.5" r="5.1"/>
<circle class="s" cx="585.7" cy="1268.8" r="5.1"/>
<circle class="s" cx="597.7" cy="1270.2" r="5.1"/>
<circle class="s" cx="600.3" cy="1271.8" r="5.1"/>
<circle class="s" cx="560.3" cy="1272.5" r="5.1"/>
<circle class="s" cx="561" cy="1275.2" r="5.1"/>
<circle class="s" cx="533.6" cy="1276.8" r="5.1"/>
<circle class="s" cx="538.9" cy="1282.5" r="5.1"/>
<circle class="s" cx="518.2" cy="1294.5" r="5.1"/>
<circle class="s" cx="595.7" cy="1291.5" r="5.1"/>
<circle class="s" cx="538.6" cy="1306.9" r="5.1"/>
<circle class="s" cx="555.6" cy="1306.2" r="5.1"/>
<circle class="s" cx="559.6" cy="1304.2" r="5.1"/>
<circle class="s" cx="548.9" cy="1314.2" r="5.1"/>
<circle class="s" cx="557.6" cy="1319.6" r="5.1"/>
<circle class="s" cx="634.7" cy="1308.6" r="5.1"/>
<circle class="s" cx="643.1" cy="1306.2" r="5.1"/>
<circle class="s" cx="639.1" cy="1323.6" r="5.1"/>
<circle class="s" cx="530.2" cy="1328.6" r="5.1"/>
<circle class="s" cx="507.9" cy="1347.6" r="5.1"/>
<circle class="s" cx="529.6" cy="1343.6" r="5.1"/>
<circle class="s" cx="532.9" cy="1345.3" r="5.1"/>
<circle class="s" cx="524.2" cy="1364.7" r="5.1"/>
<circle class="s" cx="549.3" cy="1358.6" r="5.1"/>
<circle class="s" cx="578.3" cy="1362.7" r="5.1"/>
<circle class="s" cx="585" cy="1360.3" r="5.1"/>
<circle class="s" cx="571" cy="1375.3" r="5.1"/>
<circle class="s" cx="711.5" cy="1395.4" r="5.1"/>
<circle class="s" cx="499.5" cy="1418.7" r="5.1"/>
<circle class="s" cx="522.9" cy="1431.4" r="5.1"/>
<circle class="s" cx="573.6" cy="1442.8" r="5.1"/>
<circle class="s" cx="501.9" cy="1456.1" r="5.1"/>
<text x="786.5" y="1200.7" font-weight="bold">i</text>
<line x1="872.8" y1="1230.8" x2="872.8" y2="1466.8" stroke="#000" stroke-width="1.8"/>
<line x1="871.9" y1="1465.9" x2="1105.4" y2="1465.9" stroke="#000" stroke-width="1.8"/>
<line x1="868.3" y1="1421.3" x2="872.8" y2="1421.3" stroke="#000" stroke-width="1.8"/>
<line x1="868.3" y1="1348.8" x2="872.8" y2="1348.8" stroke="#000" stroke-width="1.8"/>
<line x1="868.3" y1="1276.7" x2="872.8" y2="1276.7" stroke="#000" stroke-width="1.8"/>
<line x1="906.5" y1="1465.9" x2="906.5" y2="1469.4" stroke="#000" stroke-width="1.8"/>
<line x1="956.9" y1="1465.9" x2="956.9" y2="1469.4" stroke="#000" stroke-width="1.8"/>
<line x1="1008" y1="1465.9" x2="1008" y2="1469.4" stroke="#000" stroke-width="1.8"/>
<line x1="1058.8" y1="1465.9" x2="1058.8" y2="1469.4" stroke="#000" stroke-width="1.8"/>
<text transform="translate(866.3,1428.2) scale(1,1.06)" text-anchor="end">40</text>
<text transform="translate(866.3,1355.7) scale(1,1.06)" text-anchor="end">60</text>
<text transform="translate(866.3,1283.6) scale(1,1.06)" text-anchor="end">80</text>
<text transform="translate(906.5,1491.7) scale(1,1.06)" text-anchor="middle">1</text>
<text transform="translate(956.9,1491.7) scale(1,1.06)" text-anchor="middle">2</text>
<text transform="translate(1008,1491.7) scale(1,1.06)" text-anchor="middle">3</text>
<text transform="translate(1058.8,1491.7) scale(1,1.06)" text-anchor="middle">4</text>
<text transform="translate(987.5,1522.4) scale(1,1.06)" text-anchor="middle">Lymphocyte Count (x10<tspan font-size="13" dy="-5.2">9</tspan><tspan dy="5.2"> </tspan>/L)</text>
<text transform="translate(955.6,1215.8) scale(1,1.06)" text-anchor="middle">r = 0.06, p = 0.7</text>
<text transform="translate(818.1,1365.7) rotate(-90) scale(1,1.06)" text-anchor="middle">% Granzyme A<tspan font-size="14.5" dy="-8.3">+</tspan><tspan dy="8.3"> </tspan>CD56<tspan font-size="14.5" dy="-8.3">+</tspan><tspan dy="8.3"> </tspan>cells</text>
<line x1="882.5" y1="1319.7" x2="1095" y2="1324.6" stroke="#000" stroke-width="1.8"/>
<circle class="s" cx="921" cy="1241.2" r="5.1"/>
<circle class="s" cx="969.5" cy="1246" r="5.1"/>
<circle class="s" cx="886.4" cy="1252.1" r="5.1"/>
<circle class="s" cx="913" cy="1250.2" r="5.1"/>
<circle class="s" cx="901" cy="1258.3" r="5.1"/>
<circle class="s" cx="921.4" cy="1258.9" r="5.1"/>
<circle class="s" cx="968.6" cy="1256.4" r="5.1"/>
<circle class="s" cx="978.6" cy="1267" r="5.1"/>
<circle class="s" cx="982.8" cy="1274.1" r="5.1"/>
<circle class="s" cx="980.9" cy="1279.3" r="5.1"/>
<circle class="s" cx="950.5" cy="1271.2" r="5.1"/>
<circle class="s" cx="943.7" cy="1279.3" r="5.1"/>
<circle class="s" cx="903.6" cy="1277.7" r="5.1"/>
<circle class="s" cx="916.5" cy="1288" r="5.1"/>
<circle class="s" cx="943" cy="1286.4" r="5.1"/>
<circle class="s" cx="941.4" cy="1290.3" r="5.1"/>
<circle class="s" cx="921.4" cy="1299.4" r="5.1"/>
<circle class="s" cx="1017.7" cy="1298.7" r="5.1"/>
<circle class="s" cx="940.4" cy="1306.8" r="5.1"/>
<circle class="s" cx="931.7" cy="1313.3" r="5.1"/>
<circle class="s" cx="890.6" cy="1323.9" r="5.1"/>
<circle class="s" cx="938.8" cy="1327.2" r="5.1"/>
<circle class="s" cx="912.6" cy="1330.4" r="5.1"/>
<circle class="s" cx="1025.5" cy="1331.1" r="5.1"/>
<circle class="s" cx="1022.3" cy="1337.2" r="5.1"/>
<circle class="s" cx="931.7" cy="1345.9" r="5.1"/>
<circle class="s" cx="907.5" cy="1356.9" r="5.1"/>
<circle class="s" cx="912.3" cy="1365" r="5.1"/>
<circle class="s" cx="914.9" cy="1368.9" r="5.1"/>
<circle class="s" cx="953.4" cy="1370.5" r="5.1"/>
<circle class="s" cx="960.8" cy="1363.4" r="5.1"/>
<circle class="s" cx="967.9" cy="1366.3" r="5.1"/>
<circle class="s" cx="1095" cy="1422.3" r="5.1"/>
<circle class="s" cx="884.2" cy="1434.2" r="5.1"/>
<circle class="s" cx="906.5" cy="1447.5" r="5.1"/>
<circle class="s" cx="882.5" cy="1455.9" r="5.1"/>
<circle class="s" cx="956.9" cy="1454.6" r="5.1"/>
<text x="0" y="1619.4" font-weight="bold">j</text>
<line x1="95.3" y1="1661.8" x2="95.3" y2="1891.9" stroke="#000" stroke-width="1.8"/>
<line x1="94.4" y1="1891" x2="327.2" y2="1891" stroke="#000" stroke-width="1.8"/>
<line x1="90.8" y1="1886.2" x2="95.3" y2="1886.2" stroke="#000" stroke-width="1.8"/>
<line x1="90.8" y1="1830.4" x2="95.3" y2="1830.4" stroke="#000" stroke-width="1.8"/>
<line x1="90.8" y1="1775.3" x2="95.3" y2="1775.3" stroke="#000" stroke-width="1.8"/>
<line x1="90.8" y1="1720.2" x2="95.3" y2="1720.2" stroke="#000" stroke-width="1.8"/>
<line x1="90.8" y1="1664.1" x2="95.3" y2="1664.1" stroke="#000" stroke-width="1.8"/>
<line x1="96.8" y1="1891" x2="96.8" y2="1894.5" stroke="#000" stroke-width="1.8"/>
<line x1="164.6" y1="1891" x2="164.6" y2="1894.5" stroke="#000" stroke-width="1.8"/>
<line x1="232.7" y1="1891" x2="232.7" y2="1894.5" stroke="#000" stroke-width="1.8"/>
<line x1="300.5" y1="1891" x2="300.5" y2="1894.5" stroke="#000" stroke-width="1.8"/>
<line x1="130.9" y1="1891" x2="130.9" y2="1894.5" stroke="#000" stroke-width="1.8"/>
<line x1="198.7" y1="1891" x2="198.7" y2="1894.5" stroke="#000" stroke-width="1.8"/>
<line x1="266.4" y1="1891" x2="266.4" y2="1894.5" stroke="#000" stroke-width="1.8"/>
<text transform="translate(89.6,1893.1) scale(1,1.06)" text-anchor="end">0</text>
<text transform="translate(89.6,1837.3) scale(1,1.06)" text-anchor="end">5</text>
<text transform="translate(89.6,1782.2) scale(1,1.06)" text-anchor="end">10</text>
<text transform="translate(89.6,1727.1) scale(1,1.06)" text-anchor="end">15</text>
<text transform="translate(89.6,1671) scale(1,1.06)" text-anchor="end">20</text>
<text transform="translate(100.9,1917.3) scale(1,1.06)" text-anchor="middle">0.4</text>
<text transform="translate(168.7,1917.3) scale(1,1.06)" text-anchor="middle">0.8</text>
<text transform="translate(236.8,1917.3) scale(1,1.06)" text-anchor="middle">1.2</text>
<text transform="translate(304.6,1917.3) scale(1,1.06)" text-anchor="middle">1.6</text>
<text transform="translate(218.2,1954.4) scale(1,1.06)" text-anchor="middle">C3 (g/L)</text>
<text transform="translate(196.2,1643.3) scale(1,1.06)" text-anchor="middle">r = 0.31, p = 0.057</text>
<text transform="translate(24.9,1776.7) rotate(-90) scale(1,1.06)" text-anchor="middle">% CD56<tspan font-size="14.5" dy="-8.3">+</tspan><tspan dy="8.3"> </tspan>cells</text>
<text transform="translate(53.3,1775.9) rotate(-90) scale(1,1.06)" text-anchor="middle">as % of live cells</text>
<line x1="105.5" y1="1842.8" x2="317.2" y2="1772.6" stroke="#000" stroke-width="1.8"/>
<circle class="s" cx="317.2" cy="1672.1" r="5.1"/>
<circle class="s" cx="187" cy="1700.2" r="5.1"/>
<circle class="s" cx="169.6" cy="1712.9" r="5.1"/>
<circle class="s" cx="269.8" cy="1725.6" r="5.1"/>
<circle class="s" cx="254.4" cy="1731.9" r="5.1"/>
<circle class="s" cx="181.6" cy="1748.9" r="5.1"/>
<circle class="s" cx="249.1" cy="1749.9" r="5.1"/>
<circle class="s" cx="215.7" cy="1764.3" r="5.1"/>
<circle class="s" cx="237.7" cy="1767.6" r="5.1"/>
<circle class="s" cx="159.6" cy="1787" r="5.1"/>
<circle class="s" cx="166.3" cy="1792.7" r="5.1"/>
<circle class="s" cx="189.6" cy="1787" r="5.1"/>
<circle class="s" cx="217" cy="1789.7" r="5.1"/>
<circle class="s" cx="222" cy="1784.7" r="5.1"/>
<circle class="s" cx="226.4" cy="1783" r="5.1"/>
<circle class="s" cx="213.7" cy="1799.7" r="5.1"/>
<circle class="s" cx="219" cy="1803" r="5.1"/>
<circle class="s" cx="266.1" cy="1809.4" r="5.1"/>
<circle class="s" cx="275.1" cy="1804.7" r="5.1"/>
<circle class="s" cx="195.3" cy="1820.4" r="5.1"/>
<circle class="s" cx="230.4" cy="1818.4" r="5.1"/>
<circle class="s" cx="271.5" cy="1819.7" r="5.1"/>
<circle class="s" cx="195.3" cy="1831.1" r="5.1"/>
<circle class="s" cx="240.4" cy="1830.4" r="5.1"/>
<circle class="s" cx="264.4" cy="1831.7" r="5.1"/>
<circle class="s" cx="136.9" cy="1837.4" r="5.1"/>
<circle class="s" cx="217" cy="1848.8" r="5.1"/>
<circle class="s" cx="171.3" cy="1852.4" r="5.1"/>
<circle class="s" cx="183.3" cy="1853.8" r="5.1"/>
<circle class="s" cx="179.6" cy="1859.8" r="5.1"/>
<circle class="s" cx="164.3" cy="1865.5" r="5.1"/>
<circle class="s" cx="279.8" cy="1859.8" r="5.1"/>
<circle class="s" cx="315.2" cy="1858.8" r="5.1"/>
<circle class="s" cx="105.5" cy="1864.1" r="5.1"/>
<circle class="s" cx="147.2" cy="1872.1" r="5.1"/>
<circle class="s" cx="242.7" cy="1872.1" r="5.1"/>
<circle class="s" cx="120.5" cy="1879.5" r="5.1"/>
<circle class="s" cx="179.6" cy="1880.8" r="5.1"/>
<text x="408" y="1617.7" font-weight="bold">k</text>
<line x1="487.8" y1="1655.8" x2="487.8" y2="1892.4" stroke="#000" stroke-width="1.8"/>
<line x1="486.9" y1="1891.5" x2="720.6" y2="1891.5" stroke="#000" stroke-width="1.8"/>
<line x1="483.3" y1="1863.1" x2="487.8" y2="1863.1" stroke="#000" stroke-width="1.8"/>
<line x1="483.3" y1="1799.7" x2="487.8" y2="1799.7" stroke="#000" stroke-width="1.8"/>
<line x1="483.3" y1="1735.9" x2="487.8" y2="1735.9" stroke="#000" stroke-width="1.8"/>
<line x1="483.3" y1="1671.8" x2="487.8" y2="1671.8" stroke="#000" stroke-width="1.8"/>
<line x1="490.2" y1="1891.5" x2="490.2" y2="1895" stroke="#000" stroke-width="1.8"/>
<line x1="558" y1="1891.5" x2="558" y2="1895" stroke="#000" stroke-width="1.8"/>
<line x1="625.7" y1="1891.5" x2="625.7" y2="1895" stroke="#000" stroke-width="1.8"/>
<line x1="693.2" y1="1891.5" x2="693.2" y2="1895" stroke="#000" stroke-width="1.8"/>
<line x1="523.9" y1="1891.5" x2="523.9" y2="1895" stroke="#000" stroke-width="1.8"/>
<line x1="591.9" y1="1891.5" x2="591.9" y2="1895" stroke="#000" stroke-width="1.8"/>
<line x1="659.5" y1="1891.5" x2="659.5" y2="1895" stroke="#000" stroke-width="1.8"/>
<text transform="translate(481.3,1870) scale(1,1.06)" text-anchor="end">20</text>
<text transform="translate(481.3,1806.6) scale(1,1.06)" text-anchor="end">40</text>
<text transform="translate(481.3,1742.8) scale(1,1.06)" text-anchor="end">60</text>
<text transform="translate(481.3,1678.7) scale(1,1.06)" text-anchor="end">80</text>
<text transform="translate(494.7,1917) scale(1,1.06)" text-anchor="middle">0.4</text>
<text transform="translate(562.5,1917) scale(1,1.06)" text-anchor="middle">0.8</text>
<text transform="translate(630.2,1917) scale(1,1.06)" text-anchor="middle">1.2</text>
<text transform="translate(697.7,1917) scale(1,1.06)" text-anchor="middle">1.6</text>
<text transform="translate(629.2,1954.4) scale(1,1.06)" text-anchor="middle">C3 (g/L)</text>
<text transform="translate(582.9,1639.9) scale(1,1.06)" text-anchor="middle">r = 0.27, p = 0.13</text>
<text transform="translate(439.4,1785.2) rotate(-90) scale(1,1.06)" text-anchor="middle">% Perforin<tspan font-size="14.5" dy="-8.3">+</tspan><tspan dy="8.3"> </tspan>CD56<tspan font-size="14.5" dy="-8.3">+</tspan><tspan dy="8.3"> </tspan>cells</text>
<line x1="498.5" y1="1772" x2="710.5" y2="1721.2" stroke="#000" stroke-width="1.8"/>
<circle class="s" cx="552.6" cy="1666.1" r="5.1"/>
<circle class="s" cx="662.5" cy="1668.8" r="5.1"/>
<circle class="s" cx="709.9" cy="1670.1" r="5.1"/>
<circle class="s" cx="623.7" cy="1680.2" r="5.1"/>
<circle class="s" cx="647.4" cy="1682.2" r="5.1"/>
<circle class="s" cx="642.1" cy="1693.5" r="5.1"/>
<circle class="s" cx="630.4" cy="1696.5" r="5.1"/>
<circle class="s" cx="608.4" cy="1694.2" r="5.1"/>
<circle class="s" cx="615.4" cy="1700.2" r="5.1"/>
<circle class="s" cx="583" cy="1702.2" r="5.1"/>
<circle class="s" cx="579.3" cy="1707.5" r="5.1"/>
<circle class="s" cx="588" cy="1715.9" r="5.1"/>
<circle class="s" cx="559.6" cy="1719.2" r="5.1"/>
<circle class="s" cx="564" cy="1731.9" r="5.1"/>
<circle class="s" cx="606.4" cy="1730.9" r="5.1"/>
<circle class="s" cx="610.7" cy="1730.9" r="5.1"/>
<circle class="s" cx="619" cy="1728.9" r="5.1"/>
<circle class="s" cx="659.1" cy="1738.9" r="5.1"/>
<circle class="s" cx="657.8" cy="1747.9" r="5.1"/>
<circle class="s" cx="667.8" cy="1744.3" r="5.1"/>
<circle class="s" cx="540.6" cy="1753.3" r="5.1"/>
<circle class="s" cx="498.5" cy="1770.3" r="5.1"/>
<circle class="s" cx="530.6" cy="1772.3" r="5.1"/>
<circle class="s" cx="610" cy="1768.6" r="5.1"/>
<circle class="s" cx="536.9" cy="1783.3" r="5.1"/>
<circle class="s" cx="557.6" cy="1785" r="5.1"/>
<circle class="s" cx="572.6" cy="1787.7" r="5.1"/>
<circle class="s" cx="635.4" cy="1800.4" r="5.1"/>
<circle class="s" cx="708.9" cy="1820.4" r="5.1"/>
<circle class="s" cx="513.2" cy="1843.8" r="5.1"/>
<circle class="s" cx="572.3" cy="1856.1" r="5.1"/>
<circle class="s" cx="672.5" cy="1867.5" r="5.1"/>
<circle class="s" cx="576.3" cy="1880.8" r="5.1"/>
<text x="786.5" y="1617.5" font-weight="bold">l</text>
<line x1="868" y1="1658.6" x2="868" y2="1895.6" stroke="#000" stroke-width="1.8"/>
<line x1="867.1" y1="1894.7" x2="1100.5" y2="1894.7" stroke="#000" stroke-width="1.8"/>
<line x1="863.5" y1="1849.4" x2="868" y2="1849.4" stroke="#000" stroke-width="1.8"/>
<line x1="863.5" y1="1776.9" x2="868" y2="1776.9" stroke="#000" stroke-width="1.8"/>
<line x1="863.5" y1="1704.8" x2="868" y2="1704.8" stroke="#000" stroke-width="1.8"/>
<line x1="869.6" y1="1894.7" x2="869.6" y2="1898.2" stroke="#000" stroke-width="1.8"/>
<line x1="937.5" y1="1894.7" x2="937.5" y2="1898.2" stroke="#000" stroke-width="1.8"/>
<line x1="1005.4" y1="1894.7" x2="1005.4" y2="1898.2" stroke="#000" stroke-width="1.8"/>
<line x1="1073.4" y1="1894.7" x2="1073.4" y2="1898.2" stroke="#000" stroke-width="1.8"/>
<line x1="903.5" y1="1894.7" x2="903.5" y2="1898.2" stroke="#000" stroke-width="1.8"/>
<line x1="971.5" y1="1894.7" x2="971.5" y2="1898.2" stroke="#000" stroke-width="1.8"/>
<line x1="1039.4" y1="1894.7" x2="1039.4" y2="1898.2" stroke="#000" stroke-width="1.8"/>
<text transform="translate(861.5,1856.3) scale(1,1.06)" text-anchor="end">40</text>
<text transform="translate(861.5,1783.8) scale(1,1.06)" text-anchor="end">60</text>
<text transform="translate(861.5,1711.7) scale(1,1.06)" text-anchor="end">80</text>
<text transform="translate(874,1920.4) scale(1,1.06)" text-anchor="middle">0.4</text>
<text transform="translate(941.9,1920.4) scale(1,1.06)" text-anchor="middle">0.8</text>
<text transform="translate(1009.8,1920.4) scale(1,1.06)" text-anchor="middle">1.2</text>
<text transform="translate(1077.8,1920.4) scale(1,1.06)" text-anchor="middle">1.6</text>
<text transform="translate(997.7,1956) scale(1,1.06)" text-anchor="middle">C3 (g/L)</text>
<text transform="translate(960,1639) scale(1,1.06)" text-anchor="middle">r = 0.25, p = 0.17</text>
<text transform="translate(814.9,1781.7) rotate(-90) scale(1,1.06)" text-anchor="middle">% Granzyme A<tspan font-size="14.5" dy="-8.3">+</tspan><tspan dy="8.3"> </tspan>CD56<tspan font-size="14.5" dy="-8.3">+</tspan><tspan dy="8.3"> </tspan>cells</text>
<line x1="878.3" y1="1775" x2="1090.2" y2="1728.4" stroke="#000" stroke-width="1.8"/>
<circle class="s" cx="1043.3" cy="1669.2" r="5.1"/>
<circle class="s" cx="1089.9" cy="1673.4" r="5.1"/>
<circle class="s" cx="932.7" cy="1680.6" r="5.1"/>
<circle class="s" cx="938.8" cy="1686.7" r="5.1"/>
<circle class="s" cx="1027.4" cy="1678.3" r="5.1"/>
<circle class="s" cx="1022.3" cy="1684.4" r="5.1"/>
<circle class="s" cx="959.8" cy="1687" r="5.1"/>
<circle class="s" cx="967.9" cy="1694.5" r="5.1"/>
<circle class="s" cx="1002.9" cy="1699.3" r="5.1"/>
<circle class="s" cx="1010.3" cy="1702.2" r="5.1"/>
<circle class="s" cx="988.6" cy="1707.4" r="5.1"/>
<circle class="s" cx="994.8" cy="1714.5" r="5.1"/>
<circle class="s" cx="999" cy="1718.4" r="5.1"/>
<circle class="s" cx="963.1" cy="1716.1" r="5.1"/>
<circle class="s" cx="944.3" cy="1727.5" r="5.1"/>
<circle class="s" cx="1047.8" cy="1734.9" r="5.1"/>
<circle class="s" cx="1039.4" cy="1741.4" r="5.1"/>
<circle class="s" cx="910" cy="1751.7" r="5.1"/>
<circle class="s" cx="920.1" cy="1758.5" r="5.1"/>
<circle class="s" cx="986.4" cy="1754.9" r="5.1"/>
<circle class="s" cx="990.6" cy="1758.8" r="5.1"/>
<circle class="s" cx="1037.8" cy="1764.6" r="5.1"/>
<circle class="s" cx="917.2" cy="1774" r="5.1"/>
<circle class="s" cx="878.3" cy="1797.3" r="5.1"/>
<circle class="s" cx="937.5" cy="1794.1" r="5.1"/>
<circle class="s" cx="953.1" cy="1791.8" r="5.1"/>
<circle class="s" cx="990.2" cy="1793.1" r="5.1"/>
<circle class="s" cx="1015.8" cy="1798.6" r="5.1"/>
<circle class="s" cx="1088.6" cy="1850.3" r="5.1"/>
<circle class="s" cx="956" cy="1862.3" r="5.1"/>
<circle class="s" cx="952.7" cy="1875.6" r="5.1"/>
<circle class="s" cx="893.2" cy="1884" r="5.1"/>
<circle class="s" cx="1053" cy="1882.7" r="5.1"/>
<text x="0" y="2027.1" font-weight="bold">m</text>
<line x1="97.5" y1="2071.5" x2="97.5" y2="2301.1" stroke="#000" stroke-width="1.8"/>
<line x1="96.6" y1="2300.2" x2="327.2" y2="2300.2" stroke="#000" stroke-width="1.8"/>
<line x1="93" y1="2296.2" x2="97.5" y2="2296.2" stroke="#000" stroke-width="1.8"/>
<line x1="93" y1="2240.8" x2="97.5" y2="2240.8" stroke="#000" stroke-width="1.8"/>
<line x1="93" y1="2185" x2="97.5" y2="2185" stroke="#000" stroke-width="1.8"/>
<line x1="93" y1="2129.2" x2="97.5" y2="2129.2" stroke="#000" stroke-width="1.8"/>
<line x1="93" y1="2073.2" x2="97.5" y2="2073.2" stroke="#000" stroke-width="1.8"/>
<line x1="105.8" y1="2300.2" x2="105.8" y2="2303.7" stroke="#000" stroke-width="1.8"/>
<line x1="176" y1="2300.2" x2="176" y2="2303.7" stroke="#000" stroke-width="1.8"/>
<line x1="246.1" y1="2300.2" x2="246.1" y2="2303.7" stroke="#000" stroke-width="1.8"/>
<line x1="315.9" y1="2300.2" x2="315.9" y2="2303.7" stroke="#000" stroke-width="1.8"/>
<text transform="translate(91,2303.1) scale(1,1.06)" text-anchor="end">0</text>
<text transform="translate(91,2247.7) scale(1,1.06)" text-anchor="end">5</text>
<text transform="translate(91,2191.9) scale(1,1.06)" text-anchor="end">10</text>
<text transform="translate(91,2136.1) scale(1,1.06)" text-anchor="end">15</text>
<text transform="translate(91,2080.1) scale(1,1.06)" text-anchor="end">20</text>
<text transform="translate(101.5,2326.7) scale(1,1.06)" text-anchor="middle">0</text>
<text transform="translate(176,2326.7) scale(1,1.06)" text-anchor="middle">100</text>
<text transform="translate(246.1,2326.7) scale(1,1.06)" text-anchor="middle">200</text>
<text transform="translate(315.9,2326.7) scale(1,1.06)" text-anchor="middle">300</text>
<text transform="translate(223.3,2357.5) scale(1,1.06)" text-anchor="middle">anti−dsDNA (IU/mL)</text>
<text transform="translate(198.8,2050.3) scale(1,1.06)" text-anchor="middle">r = −0.23, p = 0.16</text>
<text transform="translate(24.6,2187) rotate(-90) scale(1,1.06)" text-anchor="middle">% CD56<tspan font-size="14.5" dy="-8.3">+</tspan><tspan dy="8.3"> </tspan>cells</text>
<text transform="translate(53.3,2186.4) rotate(-90) scale(1,1.06)" text-anchor="middle">as % of live cells</text>
<line x1="104.2" y1="2213.4" x2="317.2" y2="2262.8" stroke="#000" stroke-width="1.8"/>
<circle class="s" cx="108.8" cy="2109.9" r="5.1"/>
<circle class="s" cx="132.6" cy="2123.2" r="5.1"/>
<circle class="s" cx="127.9" cy="2134.9" r="5.1"/>
<circle class="s" cx="120.9" cy="2141.9" r="5.1"/>
<circle class="s" cx="111.2" cy="2158.3" r="5.1"/>
<circle class="s" cx="113.9" cy="2160" r="5.1"/>
<circle class="s" cx="111.2" cy="2174.3" r="5.1"/>
<circle class="s" cx="124.2" cy="2177.3" r="5.1"/>
<circle class="s" cx="109.5" cy="2194.4" r="5.1"/>
<circle class="s" cx="113.9" cy="2200" r="5.1"/>
<circle class="s" cx="123.5" cy="2197.4" r="5.1"/>
<circle class="s" cx="143.2" cy="2196.7" r="5.1"/>
<circle class="s" cx="148.6" cy="2202.4" r="5.1"/>
<circle class="s" cx="107.8" cy="2210" r="5.1"/>
<circle class="s" cx="143.2" cy="2213.4" r="5.1"/>
<circle class="s" cx="152.9" cy="2219.1" r="5.1"/>
<circle class="s" cx="317.2" cy="2221.1" r="5.1"/>
<circle class="s" cx="107.8" cy="2230.1" r="5.1"/>
<circle class="s" cx="115.2" cy="2229.4" r="5.1"/>
<circle class="s" cx="219.4" cy="2231.7" r="5.1"/>
<circle class="s" cx="128.5" cy="2241.1" r="5.1"/>
<circle class="s" cx="282.8" cy="2241.8" r="5.1"/>
<circle class="s" cx="207.7" cy="2246.8" r="5.1"/>
<circle class="s" cx="126.2" cy="2255.8" r="5.1"/>
<circle class="s" cx="178.6" cy="2261.8" r="5.1"/>
<circle class="s" cx="116.2" cy="2264.5" r="5.1"/>
<circle class="s" cx="120.2" cy="2265.1" r="5.1"/>
<circle class="s" cx="112.9" cy="2269.1" r="5.1"/>
<circle class="s" cx="134.2" cy="2269.8" r="5.1"/>
<circle class="s" cx="171.6" cy="2274.8" r="5.1"/>
<circle class="s" cx="242.4" cy="2273.5" r="5.1"/>
<circle class="s" cx="125.2" cy="2281.8" r="5.1"/>
<circle class="s" cx="231.1" cy="2281.8" r="5.1"/>
<circle class="s" cx="108.5" cy="2290.8" r="5.1"/>
<circle class="s" cx="119.2" cy="2289.2" r="5.1"/>
<text x="408" y="2026.4" font-weight="bold">n</text>
<line x1="496.8" y1="2064.8" x2="496.8" y2="2301.8" stroke="#000" stroke-width="1.8"/>
<line x1="495.9" y1="2300.9" x2="726.2" y2="2300.9" stroke="#000" stroke-width="1.8"/>
<line x1="492.3" y1="2272.8" x2="496.8" y2="2272.8" stroke="#000" stroke-width="1.8"/>
<line x1="492.3" y1="2208.7" x2="496.8" y2="2208.7" stroke="#000" stroke-width="1.8"/>
<line x1="492.3" y1="2144.9" x2="496.8" y2="2144.9" stroke="#000" stroke-width="1.8"/>
<line x1="492.3" y1="2080.8" x2="496.8" y2="2080.8" stroke="#000" stroke-width="1.8"/>
<line x1="505.2" y1="2300.9" x2="505.2" y2="2304.4" stroke="#000" stroke-width="1.8"/>
<line x1="575.3" y1="2300.9" x2="575.3" y2="2304.4" stroke="#000" stroke-width="1.8"/>
<line x1="645.4" y1="2300.9" x2="645.4" y2="2304.4" stroke="#000" stroke-width="1.8"/>
<line x1="715.5" y1="2300.9" x2="715.5" y2="2304.4" stroke="#000" stroke-width="1.8"/>
<text transform="translate(490.3,2279.7) scale(1,1.06)" text-anchor="end">20</text>
<text transform="translate(490.3,2215.6) scale(1,1.06)" text-anchor="end">40</text>
<text transform="translate(490.3,2151.8) scale(1,1.06)" text-anchor="end">60</text>
<text transform="translate(490.3,2087.7) scale(1,1.06)" text-anchor="end">80</text>
<text transform="translate(506.4,2326.5) scale(1,1.06)" text-anchor="middle">0</text>
<text transform="translate(580.6,2326.5) scale(1,1.06)" text-anchor="middle">100</text>
<text transform="translate(650.7,2326.5) scale(1,1.06)" text-anchor="middle">200</text>
<text transform="translate(720.8,2326.5) scale(1,1.06)" text-anchor="middle">300</text>
<text transform="translate(625.9,2354.8) scale(1,1.06)" text-anchor="middle">anti−dsDNA (IU/mL)</text>
<text transform="translate(604.7,2044.6) scale(1,1.06)" text-anchor="middle">r = –0.012, <tspan font-style="italic">p</tspan> = 0.95</text>
<text transform="translate(452.7,2178.8) rotate(-90) scale(1,1.06)" text-anchor="middle">% Perforin<tspan font-size="14.5" dy="-8.3">+</tspan><tspan dy="8.3"> </tspan>CD56<tspan font-size="14.5" dy="-8.3">+</tspan><tspan dy="8.3"> </tspan>cells</text>
<line x1="506.9" y1="2160.6" x2="716.5" y2="2141.6" stroke="#000" stroke-width="1.8"/>
<circle class="s" cx="523.6" cy="2076.5" r="5.1"/>
<circle class="s" cx="527.6" cy="2078.8" r="5.1"/>
<circle class="s" cx="512.5" cy="2089.8" r="5.1"/>
<circle class="s" cx="520.9" cy="2092.2" r="5.1"/>
<circle class="s" cx="512.9" cy="2102.5" r="5.1"/>
<circle class="s" cx="508.5" cy="2104.9" r="5.1"/>
<circle class="s" cx="523.6" cy="2106.2" r="5.1"/>
<circle class="s" cx="507.5" cy="2109.9" r="5.1"/>
<circle class="s" cx="716.5" cy="2097.9" r="5.1"/>
<circle class="s" cx="618.7" cy="2107.2" r="5.1"/>
<circle class="s" cx="542.6" cy="2111.5" r="5.1"/>
<circle class="s" cx="507.5" cy="2117.2" r="5.1"/>
<circle class="s" cx="506.9" cy="2125.9" r="5.1"/>
<circle class="s" cx="547.3" cy="2128.9" r="5.1"/>
<circle class="s" cx="506.2" cy="2140.6" r="5.1"/>
<circle class="s" cx="513.5" cy="2140.9" r="5.1"/>
<circle class="s" cx="525.9" cy="2143.6" r="5.1"/>
<circle class="s" cx="578.3" cy="2141.6" r="5.1"/>
<circle class="s" cx="552.6" cy="2149" r="5.1"/>
<circle class="s" cx="682.2" cy="2157.6" r="5.1"/>
<circle class="s" cx="630.1" cy="2163.3" r="5.1"/>
<circle class="s" cx="641.8" cy="2180" r="5.1"/>
<circle class="s" cx="607" cy="2182.3" r="5.1"/>
<circle class="s" cx="608.7" cy="2193.3" r="5.1"/>
<circle class="s" cx="571.3" cy="2195" r="5.1"/>
<circle class="s" cx="518.9" cy="2199.4" r="5.1"/>
<circle class="s" cx="533.6" cy="2197.7" r="5.1"/>
<circle class="s" cx="524.6" cy="2210" r="5.1"/>
<circle class="s" cx="512.2" cy="2230.1" r="5.1"/>
<circle class="s" cx="518.2" cy="2253.5" r="5.1"/>
<circle class="s" cx="507.2" cy="2266.1" r="5.1"/>
<circle class="s" cx="512.5" cy="2277.5" r="5.1"/>
<circle class="s" cx="515.9" cy="2290.2" r="5.1"/>
<text x="786.5" y="2026.7" font-weight="bold">o</text>
<line x1="876.1" y1="2068.7" x2="876.1" y2="2305.4" stroke="#000" stroke-width="1.8"/>
<line x1="875.2" y1="2304.5" x2="1106.3" y2="2304.5" stroke="#000" stroke-width="1.8"/>
<line x1="871.6" y1="2259.5" x2="876.1" y2="2259.5" stroke="#000" stroke-width="1.8"/>
<line x1="871.6" y1="2186.7" x2="876.1" y2="2186.7" stroke="#000" stroke-width="1.8"/>
<line x1="871.6" y1="2115" x2="876.1" y2="2115" stroke="#000" stroke-width="1.8"/>
<line x1="885.8" y1="2304.5" x2="885.8" y2="2308" stroke="#000" stroke-width="1.8"/>
<line x1="955.6" y1="2304.5" x2="955.6" y2="2308" stroke="#000" stroke-width="1.8"/>
<line x1="1025.5" y1="2304.5" x2="1025.5" y2="2308" stroke="#000" stroke-width="1.8"/>
<line x1="1095.7" y1="2304.5" x2="1095.7" y2="2308" stroke="#000" stroke-width="1.8"/>
<text transform="translate(869.6,2266.4) scale(1,1.06)" text-anchor="end">40</text>
<text transform="translate(869.6,2193.6) scale(1,1.06)" text-anchor="end">60</text>
<text transform="translate(869.6,2121.9) scale(1,1.06)" text-anchor="end">80</text>
<text transform="translate(886.8,2330.2) scale(1,1.06)" text-anchor="middle">0</text>
<text transform="translate(959.9,2330.2) scale(1,1.06)" text-anchor="middle">100</text>
<text transform="translate(1029.8,2330.2) scale(1,1.06)" text-anchor="middle">200</text>
<text transform="translate(1100,2330.2) scale(1,1.06)" text-anchor="middle">300</text>
<text transform="translate(1001.8,2356.2) scale(1,1.06)" text-anchor="middle">anti−dsDNA (IU/mL)</text>
<text transform="translate(990.2,2044.9) scale(1,1.06)" text-anchor="middle">r = –0.024, <tspan font-style="italic">p</tspan> = 0.89</text>
<text transform="translate(822,2200) rotate(-90) scale(1,1.06)" text-anchor="middle">% Granzyme A<tspan font-size="14.5" dy="-8.3">+</tspan><tspan dy="8.3"> </tspan>CD56<tspan font-size="14.5" dy="-8.3">+</tspan><tspan dy="8.3"> </tspan>cells</text>
<line x1="889.7" y1="2165.1" x2="1096" y2="2150.2" stroke="#000" stroke-width="1.8"/>
<circle class="s" cx="906.8" cy="2079.1" r="5.1"/>
<circle class="s" cx="899.4" cy="2088.8" r="5.1"/>
<circle class="s" cx="902.6" cy="2090.4" r="5.1"/>
<circle class="s" cx="891.6" cy="2094.9" r="5.1"/>
<circle class="s" cx="887.1" cy="2096.8" r="5.1"/>
<circle class="s" cx="926.9" cy="2096.8" r="5.1"/>
<circle class="s" cx="886.4" cy="2104.9" r="5.1"/>
<circle class="s" cx="892.2" cy="2109.8" r="5.1"/>
<circle class="s" cx="902.6" cy="2112.4" r="5.1"/>
<circle class="s" cx="890" cy="2117.2" r="5.1"/>
<circle class="s" cx="998" cy="2116.6" r="5.1"/>
<circle class="s" cx="1095.7" cy="2115.6" r="5.1"/>
<circle class="s" cx="888.4" cy="2125.3" r="5.1"/>
<circle class="s" cx="922" cy="2126" r="5.1"/>
<circle class="s" cx="905.5" cy="2137.6" r="5.1"/>
<circle class="s" cx="957.6" cy="2137.6" r="5.1"/>
<circle class="s" cx="932" cy="2151.2" r="5.1"/>
<circle class="s" cx="986" cy="2161.8" r="5.1"/>
<circle class="s" cx="886.4" cy="2165.1" r="5.1"/>
<circle class="s" cx="892.9" cy="2169.3" r="5.1"/>
<circle class="s" cx="1010" cy="2168.6" r="5.1"/>
<circle class="s" cx="1061.4" cy="2174.8" r="5.1"/>
<circle class="s" cx="988.3" cy="2183.8" r="5.1"/>
<circle class="s" cx="898.4" cy="2195.5" r="5.1"/>
<circle class="s" cx="913" cy="2201.6" r="5.1"/>
<circle class="s" cx="903.9" cy="2208.4" r="5.1"/>
<circle class="s" cx="950.8" cy="2204.5" r="5.1"/>
<circle class="s" cx="1021" cy="2207.1" r="5.1"/>
<circle class="s" cx="891.3" cy="2260.2" r="5.1"/>
<circle class="s" cx="895.8" cy="2272.5" r="5.1"/>
<circle class="s" cx="887.1" cy="2285.7" r="5.1"/>
<circle class="s" cx="891.9" cy="2292.5" r="5.1"/>
<circle class="s" cx="898.1" cy="2294.1" r="5.1"/>
</svg></body></html>
